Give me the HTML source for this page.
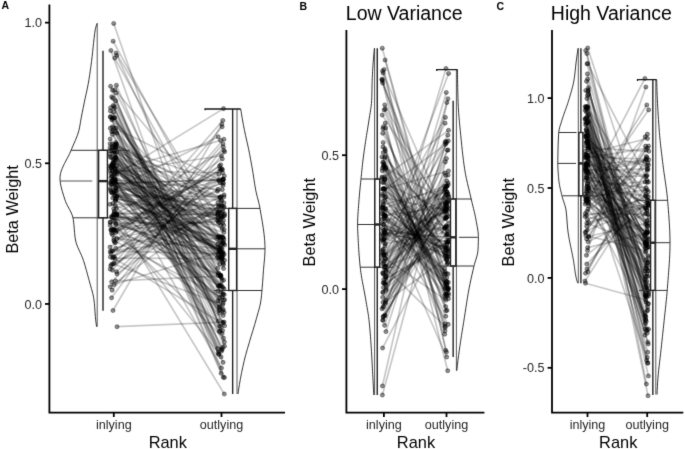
<!DOCTYPE html>
<html><head><meta charset="utf-8"><style>
html,body{margin:0;padding:0;background:#fff;}
svg{display:block;}
</style></head><body>
<svg width="685" height="449" viewBox="0 0 685 449">
<defs><filter id="bl" color-interpolation-filters="sRGB" x="0" y="0" width="685" height="449" filterUnits="userSpaceOnUse"><feConvolveMatrix order="3" kernelMatrix="1 8 1 8 64 8 1 8 1" divisor="100" edgeMode="duplicate"/></filter></defs>
<g filter="url(#bl)">
<rect width="685" height="449" fill="#fff"/>
<g stroke="#000" stroke-opacity="0.22" stroke-width="1.7" fill="none">
<path d="M116.59,214.85L219.91,248.3"/>
<path d="M114.32,230.4L220.75,275.53"/>
<path d="M116.79,196.3L223.79,215.68"/>
<path d="M112.4,126.84L218.9,179.53"/>
<path d="M116.05,53.11L217.65,220.38"/>
<path d="M112.45,270.11L223.03,143.93"/>
<path d="M115.02,195.23L223.93,196.86"/>
<path d="M115.36,205.59L220.17,249.32"/>
<path d="M115.95,128.26L218.8,354.29"/>
<path d="M114.52,159.8L219,259.3"/>
<path d="M113.14,105.46L221.07,326.77"/>
<path d="M110,247.08L224.35,175.95"/>
<path d="M115.2,179.06L223.1,242.09"/>
<path d="M111.32,157.75L223.17,263.52"/>
<path d="M110.8,253.36L220.12,182.64"/>
<path d="M116.65,174.29L223.5,108.6"/>
<path d="M112.75,258.04L222.27,258.59"/>
<path d="M114.73,58.06L224.1,254.33"/>
<path d="M113.25,162.21L222.16,228.71"/>
<path d="M115.74,248.2L224.46,215.67"/>
<path d="M115.23,221.09L220.6,275.42"/>
<path d="M116.37,92.81L219.78,301.22"/>
<path d="M116.36,213.42L217.82,214.96"/>
<path d="M110.01,147.84L219.23,222.43"/>
<path d="M114.41,151.53L222.61,223.27"/>
<path d="M117.07,133.11L222.94,262.2"/>
<path d="M110.16,150.98L219.03,310.58"/>
<path d="M115.47,190.54L219.88,219.54"/>
<path d="M111.99,217.8L218.18,254.55"/>
<path d="M114.03,284.44L220.51,251.64"/>
<path d="M110.58,181.86L220.19,197.39"/>
<path d="M114.68,173.87L224.08,288.91"/>
<path d="M116.14,198.76L223.12,303.17"/>
<path d="M115.38,183.9L223.97,239.64"/>
<path d="M115.11,258.89L218.31,320.97"/>
<path d="M116.4,85.35L219.64,326.04"/>
<path d="M114.08,214.55L223.6,207.74"/>
<path d="M111.58,250.92L219.09,237.91"/>
<path d="M113.8,219.79L219.86,212.24"/>
<path d="M115.9,188.15L218.12,136.78"/>
<path d="M112.24,147.27L217.52,191.2"/>
<path d="M112.98,310.5L221.79,124.3"/>
<path d="M115.88,157.28L220.1,236.93"/>
<path d="M110.41,222.42L219.88,257.18"/>
<path d="M110.38,188.43L220.28,251.74"/>
<path d="M112.48,134.49L223.04,294.73"/>
<path d="M116.11,147.1L218.07,275.49"/>
<path d="M110.83,229.83L217.62,214.42"/>
<path d="M113.95,183.52L217.96,291.11"/>
<path d="M114.85,89.7L217.84,212.36"/>
<path d="M110.37,117.12L222.18,349.53"/>
<path d="M116.08,143.8L221.05,256.97"/>
<path d="M115.66,180.22L218.02,189.33"/>
<path d="M110.19,138.95L219.95,285.59"/>
<path d="M113.36,163.3L217.93,300.73"/>
<path d="M113.01,215.8L221.3,236.45"/>
<path d="M115.36,242.81L222.81,120.5"/>
<path d="M110.19,156.71L218.43,236.85"/>
<path d="M112.48,164.54L223.64,280.15"/>
<path d="M110.36,128.13L223.15,255.6"/>
<path d="M113.69,214.38L224.58,245.07"/>
<path d="M110.51,116.64L221.08,373.28"/>
<path d="M115.78,199.13L221.28,218.61"/>
<path d="M112.34,118.26L217.52,236.93"/>
<path d="M110.02,154.26L223.92,203.03"/>
<path d="M112.14,217.41L223.1,237.41"/>
<path d="M113.85,240.59L221.98,297.4"/>
<path d="M111.49,183.87L222.93,179.53"/>
<path d="M110.99,191.69L218.99,250.8"/>
<path d="M115.57,142.5L223.18,237.7"/>
<path d="M114.09,229.94L222.46,169.51"/>
<path d="M110.23,269.13L218.89,180.7"/>
<path d="M114.97,180.82L222.8,253.03"/>
<path d="M110.59,86.32L221.35,349.4"/>
<path d="M115.71,100.72L222.55,330.6"/>
<path d="M115.95,223.44L218.48,222.45"/>
<path d="M111.99,192.77L223.45,264.77"/>
<path d="M110.06,166.02L220.13,240.58"/>
<path d="M113.88,228.93L223.5,338.08"/>
<path d="M114.03,191.38L224.55,299.66"/>
<path d="M112.33,193.11L217.68,244.32"/>
<path d="M112.82,251.03L222.09,253.97"/>
<path d="M110.19,222.16L217.55,257.57"/>
<path d="M116.83,214.42L219.65,297.42"/>
<path d="M110.69,168.33L224.56,214.02"/>
<path d="M113.25,256.97L222.16,126.79"/>
<path d="M111.81,176.22L222.63,310.69"/>
<path d="M114.43,242L220.75,164.83"/>
<path d="M111.62,233.24L219.93,306.82"/>
<path d="M110.4,256.95L218.29,207.03"/>
<path d="M113.7,23.5L224.39,341.91"/>
<path d="M111.8,119.8L224.44,260.2"/>
<path d="M114.71,117.64L220.84,292.33"/>
<path d="M112.09,144.23L220.82,275.29"/>
<path d="M116.45,190.66L222.86,179.48"/>
<path d="M114.13,177.61L217.95,213.12"/>
<path d="M113.58,166.45L222.06,258.6"/>
<path d="M113.43,159.34L224.04,312.36"/>
<path d="M114.1,151.52L218.34,272.89"/>
<path d="M113.92,106.54L224.48,346.21"/>
<path d="M117,326.7L224.09,322.06"/>
<path d="M111.37,216.52L223.98,150.45"/>
<path d="M115.56,148.36L218.2,218.23"/>
<path d="M112.75,198.05L221.1,216.23"/>
<path d="M111.7,184.82L222.87,211.42"/>
<path d="M114.39,108.21L223.05,362.39"/>
<path d="M114.58,168.6L219.04,251.98"/>
<path d="M112.61,90.3L224.45,377.5"/>
<path d="M115.08,181.31L218.26,286.19"/>
<path d="M111.43,167.42L222.49,237.59"/>
<path d="M110.29,251.49L224.06,194.88"/>
<path d="M111.54,297.84L223.39,147.08"/>
<path d="M115.44,201.12L223.86,232.41"/>
<path d="M110.85,177.68L220.68,251.71"/>
<path d="M114.67,196.49L223.81,243.35"/>
<path d="M114.07,263.36L223.91,139.28"/>
<path d="M114.18,150.3L221.79,200.52"/>
<path d="M112.36,176.4L222.1,333.49"/>
<path d="M112.95,180.69L217.9,246.83"/>
<path d="M115.92,232.5L219.48,166.02"/>
<path d="M112.83,98.16L224.55,325.78"/>
<path d="M110.41,110.97L222.23,286.8"/>
<path d="M113.32,166.23L224.22,294.6"/>
<path d="M110.46,183.71L223.19,315.49"/>
<path d="M111.07,166.77L222.23,253.08"/>
<path d="M111.66,96.87L220.15,331.07"/>
<path d="M113.1,41.2L222.34,241.99"/>
<path d="M113.89,179.96L219.31,331.61"/>
<path d="M112.93,203.52L218.97,306.81"/>
<path d="M110.3,286.75L221.19,204.99"/>
<path d="M110.9,50.5L221.06,356.95"/>
<path d="M114.21,256.92L223.01,185.41"/>
<path d="M110.06,143.76L222.6,347.45"/>
<path d="M115.53,157.64L220.12,236.98"/>
<path d="M114.27,117.9L219.25,274.2"/>
<path d="M113.98,238.5L222.19,217.06"/>
<path d="M116.47,271.68L218.86,174.32"/>
<path d="M110.9,173.75L219.62,264.09"/>
<path d="M114.35,163.19L221.09,284.85"/>
<path d="M112.95,131.11L222.92,293.6"/>
<path d="M115.52,280.87L220.33,276.21"/>
<path d="M114.34,211.29L219.98,246.72"/>
<path d="M114.06,192.54L222.41,206.13"/>
<path d="M112.99,263.68L222.63,304.8"/>
<path d="M116.37,187.74L221.67,211.97"/>
<path d="M114.02,145.78L222.99,322.79"/>
<path d="M111.57,181.1L220.55,276.63"/>
<path d="M110.71,265.87L224.2,207.12"/>
<path d="M116.83,165.91L222.02,256.54"/>
<path d="M116.55,144L219.27,210.19"/>
<path d="M114.79,154.4L219.1,285.82"/>
<path d="M115.63,146.98L222.52,182.81"/>
<path d="M116.93,273.86L217.81,203.12"/>
<path d="M115.28,157.77L221.27,248.79"/>
<path d="M112.28,151.11L221.44,351.26"/>
<path d="M115.38,200.01L220.48,285.77"/>
<path d="M114.43,183.17L223.23,179.64"/>
<path d="M111.48,230.66L223.47,220.39"/>
<path d="M114.06,127.94L221.41,257.36"/>
<path d="M116.9,196.19L220.95,200.21"/>
<path d="M116.88,238.54L222.12,248.82"/>
<path d="M112.61,170.83L222.61,172.76"/>
<path d="M115.01,187.63L223.54,268.51"/>
<path d="M111.68,149.19L219.73,313.02"/>
<path d="M112.49,234.73L219.98,169.23"/>
<path d="M111.43,229.3L221.45,169.8"/>
<path d="M112.47,163.32L222.73,322.4"/>
<path d="M116.8,55.49L221.96,280.68"/>
<path d="M114.13,212.78L224.3,394"/>
<path d="M111.48,264.44L221.15,206.39"/>
<path d="M112.29,171.51L220.52,140.42"/>
<path d="M116.18,230.8L222.3,158.86"/>
<path d="M112.11,290.17L224.56,151.82"/>
<path d="M112.66,229.9L222.29,189.61"/>
<path d="M113.45,217.71L221.51,278.08"/>
<path d="M115.87,159.84L221.61,244.61"/>
<path d="M112.57,117.98L217.66,268.29"/>
<path d="M115.2,132.03L217.67,348.46"/>
<path d="M115.83,144.6L221.42,259.92"/>
<path d="M110.09,204.35L219.08,205.2"/>
<path d="M116.3,172.22L222.87,244.17"/>
<path d="M112.19,181.15L221.5,215.92"/>
<path d="M113.67,112.18L223.2,309.38"/>
<path d="M110.13,225.31L222.79,287.68"/>
<path d="M116.59,215.9L220.82,225.27"/>
<path d="M110.6,107.79L223.31,377.36"/>
<path d="M116.76,151.87L219.85,309.32"/>
<path d="M113.67,208.69L223.4,179.33"/>
<path d="M115.14,172.02L221.46,155.74"/>
<path d="M114.81,173.39L223.99,229.62"/>
<path d="M110.19,170.81L221.5,368.02"/>
<path d="M114.89,145.03L219.78,197.47"/>
<path d="M111.57,165.23L223.7,225.28"/>
<path d="M110.62,190L222.98,252.19"/>
<path d="M116.59,214.83L223.4,183.22"/>
<path d="M111.68,281.85L221.5,168.7"/>
<path d="M116.24,208.54L223.62,300.26"/>
<path d="M111.64,131.7L218.73,354.23"/>
<path d="M115.23,168.51L220.94,196.56"/>
<path d="M115.69,224.6L218.23,352.57"/>
</g>
<g fill="#000" fill-opacity="0.42" stroke="#000" stroke-opacity="0.55" stroke-width="0.7">
<circle cx="116.59" cy="214.85" r="2.05"/>
<circle cx="219.91" cy="248.3" r="2.05"/>
<circle cx="114.32" cy="230.4" r="2.05"/>
<circle cx="220.75" cy="275.53" r="2.05"/>
<circle cx="116.79" cy="196.3" r="2.05"/>
<circle cx="223.79" cy="215.68" r="2.05"/>
<circle cx="112.4" cy="126.84" r="2.05"/>
<circle cx="218.9" cy="179.53" r="2.05"/>
<circle cx="116.05" cy="53.11" r="2.05"/>
<circle cx="217.65" cy="220.38" r="2.05"/>
<circle cx="112.45" cy="270.11" r="2.05"/>
<circle cx="223.03" cy="143.93" r="2.05"/>
<circle cx="115.02" cy="195.23" r="2.05"/>
<circle cx="223.93" cy="196.86" r="2.05"/>
<circle cx="115.36" cy="205.59" r="2.05"/>
<circle cx="220.17" cy="249.32" r="2.05"/>
<circle cx="115.95" cy="128.26" r="2.05"/>
<circle cx="218.8" cy="354.29" r="2.05"/>
<circle cx="114.52" cy="159.8" r="2.05"/>
<circle cx="219" cy="259.3" r="2.05"/>
<circle cx="113.14" cy="105.46" r="2.05"/>
<circle cx="221.07" cy="326.77" r="2.05"/>
<circle cx="110" cy="247.08" r="2.05"/>
<circle cx="224.35" cy="175.95" r="2.05"/>
<circle cx="115.2" cy="179.06" r="2.05"/>
<circle cx="223.1" cy="242.09" r="2.05"/>
<circle cx="111.32" cy="157.75" r="2.05"/>
<circle cx="223.17" cy="263.52" r="2.05"/>
<circle cx="110.8" cy="253.36" r="2.05"/>
<circle cx="220.12" cy="182.64" r="2.05"/>
<circle cx="116.65" cy="174.29" r="2.05"/>
<circle cx="223.5" cy="108.6" r="2.05"/>
<circle cx="112.75" cy="258.04" r="2.05"/>
<circle cx="222.27" cy="258.59" r="2.05"/>
<circle cx="114.73" cy="58.06" r="2.05"/>
<circle cx="224.1" cy="254.33" r="2.05"/>
<circle cx="113.25" cy="162.21" r="2.05"/>
<circle cx="222.16" cy="228.71" r="2.05"/>
<circle cx="115.74" cy="248.2" r="2.05"/>
<circle cx="224.46" cy="215.67" r="2.05"/>
<circle cx="115.23" cy="221.09" r="2.05"/>
<circle cx="220.6" cy="275.42" r="2.05"/>
<circle cx="116.37" cy="92.81" r="2.05"/>
<circle cx="219.78" cy="301.22" r="2.05"/>
<circle cx="116.36" cy="213.42" r="2.05"/>
<circle cx="217.82" cy="214.96" r="2.05"/>
<circle cx="110.01" cy="147.84" r="2.05"/>
<circle cx="219.23" cy="222.43" r="2.05"/>
<circle cx="114.41" cy="151.53" r="2.05"/>
<circle cx="222.61" cy="223.27" r="2.05"/>
<circle cx="117.07" cy="133.11" r="2.05"/>
<circle cx="222.94" cy="262.2" r="2.05"/>
<circle cx="110.16" cy="150.98" r="2.05"/>
<circle cx="219.03" cy="310.58" r="2.05"/>
<circle cx="115.47" cy="190.54" r="2.05"/>
<circle cx="219.88" cy="219.54" r="2.05"/>
<circle cx="111.99" cy="217.8" r="2.05"/>
<circle cx="218.18" cy="254.55" r="2.05"/>
<circle cx="114.03" cy="284.44" r="2.05"/>
<circle cx="220.51" cy="251.64" r="2.05"/>
<circle cx="110.58" cy="181.86" r="2.05"/>
<circle cx="220.19" cy="197.39" r="2.05"/>
<circle cx="114.68" cy="173.87" r="2.05"/>
<circle cx="224.08" cy="288.91" r="2.05"/>
<circle cx="116.14" cy="198.76" r="2.05"/>
<circle cx="223.12" cy="303.17" r="2.05"/>
<circle cx="115.38" cy="183.9" r="2.05"/>
<circle cx="223.97" cy="239.64" r="2.05"/>
<circle cx="115.11" cy="258.89" r="2.05"/>
<circle cx="218.31" cy="320.97" r="2.05"/>
<circle cx="116.4" cy="85.35" r="2.05"/>
<circle cx="219.64" cy="326.04" r="2.05"/>
<circle cx="114.08" cy="214.55" r="2.05"/>
<circle cx="223.6" cy="207.74" r="2.05"/>
<circle cx="111.58" cy="250.92" r="2.05"/>
<circle cx="219.09" cy="237.91" r="2.05"/>
<circle cx="113.8" cy="219.79" r="2.05"/>
<circle cx="219.86" cy="212.24" r="2.05"/>
<circle cx="115.9" cy="188.15" r="2.05"/>
<circle cx="218.12" cy="136.78" r="2.05"/>
<circle cx="112.24" cy="147.27" r="2.05"/>
<circle cx="217.52" cy="191.2" r="2.05"/>
<circle cx="112.98" cy="310.5" r="2.05"/>
<circle cx="221.79" cy="124.3" r="2.05"/>
<circle cx="115.88" cy="157.28" r="2.05"/>
<circle cx="220.1" cy="236.93" r="2.05"/>
<circle cx="110.41" cy="222.42" r="2.05"/>
<circle cx="219.88" cy="257.18" r="2.05"/>
<circle cx="110.38" cy="188.43" r="2.05"/>
<circle cx="220.28" cy="251.74" r="2.05"/>
<circle cx="112.48" cy="134.49" r="2.05"/>
<circle cx="223.04" cy="294.73" r="2.05"/>
<circle cx="116.11" cy="147.1" r="2.05"/>
<circle cx="218.07" cy="275.49" r="2.05"/>
<circle cx="110.83" cy="229.83" r="2.05"/>
<circle cx="217.62" cy="214.42" r="2.05"/>
<circle cx="113.95" cy="183.52" r="2.05"/>
<circle cx="217.96" cy="291.11" r="2.05"/>
<circle cx="114.85" cy="89.7" r="2.05"/>
<circle cx="217.84" cy="212.36" r="2.05"/>
<circle cx="110.37" cy="117.12" r="2.05"/>
<circle cx="222.18" cy="349.53" r="2.05"/>
<circle cx="116.08" cy="143.8" r="2.05"/>
<circle cx="221.05" cy="256.97" r="2.05"/>
<circle cx="115.66" cy="180.22" r="2.05"/>
<circle cx="218.02" cy="189.33" r="2.05"/>
<circle cx="110.19" cy="138.95" r="2.05"/>
<circle cx="219.95" cy="285.59" r="2.05"/>
<circle cx="113.36" cy="163.3" r="2.05"/>
<circle cx="217.93" cy="300.73" r="2.05"/>
<circle cx="113.01" cy="215.8" r="2.05"/>
<circle cx="221.3" cy="236.45" r="2.05"/>
<circle cx="115.36" cy="242.81" r="2.05"/>
<circle cx="222.81" cy="120.5" r="2.05"/>
<circle cx="110.19" cy="156.71" r="2.05"/>
<circle cx="218.43" cy="236.85" r="2.05"/>
<circle cx="112.48" cy="164.54" r="2.05"/>
<circle cx="223.64" cy="280.15" r="2.05"/>
<circle cx="110.36" cy="128.13" r="2.05"/>
<circle cx="223.15" cy="255.6" r="2.05"/>
<circle cx="113.69" cy="214.38" r="2.05"/>
<circle cx="224.58" cy="245.07" r="2.05"/>
<circle cx="110.51" cy="116.64" r="2.05"/>
<circle cx="221.08" cy="373.28" r="2.05"/>
<circle cx="115.78" cy="199.13" r="2.05"/>
<circle cx="221.28" cy="218.61" r="2.05"/>
<circle cx="112.34" cy="118.26" r="2.05"/>
<circle cx="217.52" cy="236.93" r="2.05"/>
<circle cx="110.02" cy="154.26" r="2.05"/>
<circle cx="223.92" cy="203.03" r="2.05"/>
<circle cx="112.14" cy="217.41" r="2.05"/>
<circle cx="223.1" cy="237.41" r="2.05"/>
<circle cx="113.85" cy="240.59" r="2.05"/>
<circle cx="221.98" cy="297.4" r="2.05"/>
<circle cx="111.49" cy="183.87" r="2.05"/>
<circle cx="222.93" cy="179.53" r="2.05"/>
<circle cx="110.99" cy="191.69" r="2.05"/>
<circle cx="218.99" cy="250.8" r="2.05"/>
<circle cx="115.57" cy="142.5" r="2.05"/>
<circle cx="223.18" cy="237.7" r="2.05"/>
<circle cx="114.09" cy="229.94" r="2.05"/>
<circle cx="222.46" cy="169.51" r="2.05"/>
<circle cx="110.23" cy="269.13" r="2.05"/>
<circle cx="218.89" cy="180.7" r="2.05"/>
<circle cx="114.97" cy="180.82" r="2.05"/>
<circle cx="222.8" cy="253.03" r="2.05"/>
<circle cx="110.59" cy="86.32" r="2.05"/>
<circle cx="221.35" cy="349.4" r="2.05"/>
<circle cx="115.71" cy="100.72" r="2.05"/>
<circle cx="222.55" cy="330.6" r="2.05"/>
<circle cx="115.95" cy="223.44" r="2.05"/>
<circle cx="218.48" cy="222.45" r="2.05"/>
<circle cx="111.99" cy="192.77" r="2.05"/>
<circle cx="223.45" cy="264.77" r="2.05"/>
<circle cx="110.06" cy="166.02" r="2.05"/>
<circle cx="220.13" cy="240.58" r="2.05"/>
<circle cx="113.88" cy="228.93" r="2.05"/>
<circle cx="223.5" cy="338.08" r="2.05"/>
<circle cx="114.03" cy="191.38" r="2.05"/>
<circle cx="224.55" cy="299.66" r="2.05"/>
<circle cx="112.33" cy="193.11" r="2.05"/>
<circle cx="217.68" cy="244.32" r="2.05"/>
<circle cx="112.82" cy="251.03" r="2.05"/>
<circle cx="222.09" cy="253.97" r="2.05"/>
<circle cx="110.19" cy="222.16" r="2.05"/>
<circle cx="217.55" cy="257.57" r="2.05"/>
<circle cx="116.83" cy="214.42" r="2.05"/>
<circle cx="219.65" cy="297.42" r="2.05"/>
<circle cx="110.69" cy="168.33" r="2.05"/>
<circle cx="224.56" cy="214.02" r="2.05"/>
<circle cx="113.25" cy="256.97" r="2.05"/>
<circle cx="222.16" cy="126.79" r="2.05"/>
<circle cx="111.81" cy="176.22" r="2.05"/>
<circle cx="222.63" cy="310.69" r="2.05"/>
<circle cx="114.43" cy="242" r="2.05"/>
<circle cx="220.75" cy="164.83" r="2.05"/>
<circle cx="111.62" cy="233.24" r="2.05"/>
<circle cx="219.93" cy="306.82" r="2.05"/>
<circle cx="110.4" cy="256.95" r="2.05"/>
<circle cx="218.29" cy="207.03" r="2.05"/>
<circle cx="113.7" cy="23.5" r="2.05"/>
<circle cx="224.39" cy="341.91" r="2.05"/>
<circle cx="111.8" cy="119.8" r="2.05"/>
<circle cx="224.44" cy="260.2" r="2.05"/>
<circle cx="114.71" cy="117.64" r="2.05"/>
<circle cx="220.84" cy="292.33" r="2.05"/>
<circle cx="112.09" cy="144.23" r="2.05"/>
<circle cx="220.82" cy="275.29" r="2.05"/>
<circle cx="116.45" cy="190.66" r="2.05"/>
<circle cx="222.86" cy="179.48" r="2.05"/>
<circle cx="114.13" cy="177.61" r="2.05"/>
<circle cx="217.95" cy="213.12" r="2.05"/>
<circle cx="113.58" cy="166.45" r="2.05"/>
<circle cx="222.06" cy="258.6" r="2.05"/>
<circle cx="113.43" cy="159.34" r="2.05"/>
<circle cx="224.04" cy="312.36" r="2.05"/>
<circle cx="114.1" cy="151.52" r="2.05"/>
<circle cx="218.34" cy="272.89" r="2.05"/>
<circle cx="113.92" cy="106.54" r="2.05"/>
<circle cx="224.48" cy="346.21" r="2.05"/>
<circle cx="117" cy="326.7" r="2.05"/>
<circle cx="224.09" cy="322.06" r="2.05"/>
<circle cx="111.37" cy="216.52" r="2.05"/>
<circle cx="223.98" cy="150.45" r="2.05"/>
<circle cx="115.56" cy="148.36" r="2.05"/>
<circle cx="218.2" cy="218.23" r="2.05"/>
<circle cx="112.75" cy="198.05" r="2.05"/>
<circle cx="221.1" cy="216.23" r="2.05"/>
<circle cx="111.7" cy="184.82" r="2.05"/>
<circle cx="222.87" cy="211.42" r="2.05"/>
<circle cx="114.39" cy="108.21" r="2.05"/>
<circle cx="223.05" cy="362.39" r="2.05"/>
<circle cx="114.58" cy="168.6" r="2.05"/>
<circle cx="219.04" cy="251.98" r="2.05"/>
<circle cx="112.61" cy="90.3" r="2.05"/>
<circle cx="224.45" cy="377.5" r="2.05"/>
<circle cx="115.08" cy="181.31" r="2.05"/>
<circle cx="218.26" cy="286.19" r="2.05"/>
<circle cx="111.43" cy="167.42" r="2.05"/>
<circle cx="222.49" cy="237.59" r="2.05"/>
<circle cx="110.29" cy="251.49" r="2.05"/>
<circle cx="224.06" cy="194.88" r="2.05"/>
<circle cx="111.54" cy="297.84" r="2.05"/>
<circle cx="223.39" cy="147.08" r="2.05"/>
<circle cx="115.44" cy="201.12" r="2.05"/>
<circle cx="223.86" cy="232.41" r="2.05"/>
<circle cx="110.85" cy="177.68" r="2.05"/>
<circle cx="220.68" cy="251.71" r="2.05"/>
<circle cx="114.67" cy="196.49" r="2.05"/>
<circle cx="223.81" cy="243.35" r="2.05"/>
<circle cx="114.07" cy="263.36" r="2.05"/>
<circle cx="223.91" cy="139.28" r="2.05"/>
<circle cx="114.18" cy="150.3" r="2.05"/>
<circle cx="221.79" cy="200.52" r="2.05"/>
<circle cx="112.36" cy="176.4" r="2.05"/>
<circle cx="222.1" cy="333.49" r="2.05"/>
<circle cx="112.95" cy="180.69" r="2.05"/>
<circle cx="217.9" cy="246.83" r="2.05"/>
<circle cx="115.92" cy="232.5" r="2.05"/>
<circle cx="219.48" cy="166.02" r="2.05"/>
<circle cx="112.83" cy="98.16" r="2.05"/>
<circle cx="224.55" cy="325.78" r="2.05"/>
<circle cx="110.41" cy="110.97" r="2.05"/>
<circle cx="222.23" cy="286.8" r="2.05"/>
<circle cx="113.32" cy="166.23" r="2.05"/>
<circle cx="224.22" cy="294.6" r="2.05"/>
<circle cx="110.46" cy="183.71" r="2.05"/>
<circle cx="223.19" cy="315.49" r="2.05"/>
<circle cx="111.07" cy="166.77" r="2.05"/>
<circle cx="222.23" cy="253.08" r="2.05"/>
<circle cx="111.66" cy="96.87" r="2.05"/>
<circle cx="220.15" cy="331.07" r="2.05"/>
<circle cx="113.1" cy="41.2" r="2.05"/>
<circle cx="222.34" cy="241.99" r="2.05"/>
<circle cx="113.89" cy="179.96" r="2.05"/>
<circle cx="219.31" cy="331.61" r="2.05"/>
<circle cx="112.93" cy="203.52" r="2.05"/>
<circle cx="218.97" cy="306.81" r="2.05"/>
<circle cx="110.3" cy="286.75" r="2.05"/>
<circle cx="221.19" cy="204.99" r="2.05"/>
<circle cx="110.9" cy="50.5" r="2.05"/>
<circle cx="221.06" cy="356.95" r="2.05"/>
<circle cx="114.21" cy="256.92" r="2.05"/>
<circle cx="223.01" cy="185.41" r="2.05"/>
<circle cx="110.06" cy="143.76" r="2.05"/>
<circle cx="222.6" cy="347.45" r="2.05"/>
<circle cx="115.53" cy="157.64" r="2.05"/>
<circle cx="220.12" cy="236.98" r="2.05"/>
<circle cx="114.27" cy="117.9" r="2.05"/>
<circle cx="219.25" cy="274.2" r="2.05"/>
<circle cx="113.98" cy="238.5" r="2.05"/>
<circle cx="222.19" cy="217.06" r="2.05"/>
<circle cx="116.47" cy="271.68" r="2.05"/>
<circle cx="218.86" cy="174.32" r="2.05"/>
<circle cx="110.9" cy="173.75" r="2.05"/>
<circle cx="219.62" cy="264.09" r="2.05"/>
<circle cx="114.35" cy="163.19" r="2.05"/>
<circle cx="221.09" cy="284.85" r="2.05"/>
<circle cx="112.95" cy="131.11" r="2.05"/>
<circle cx="222.92" cy="293.6" r="2.05"/>
<circle cx="115.52" cy="280.87" r="2.05"/>
<circle cx="220.33" cy="276.21" r="2.05"/>
<circle cx="114.34" cy="211.29" r="2.05"/>
<circle cx="219.98" cy="246.72" r="2.05"/>
<circle cx="114.06" cy="192.54" r="2.05"/>
<circle cx="222.41" cy="206.13" r="2.05"/>
<circle cx="112.99" cy="263.68" r="2.05"/>
<circle cx="222.63" cy="304.8" r="2.05"/>
<circle cx="116.37" cy="187.74" r="2.05"/>
<circle cx="221.67" cy="211.97" r="2.05"/>
<circle cx="114.02" cy="145.78" r="2.05"/>
<circle cx="222.99" cy="322.79" r="2.05"/>
<circle cx="111.57" cy="181.1" r="2.05"/>
<circle cx="220.55" cy="276.63" r="2.05"/>
<circle cx="110.71" cy="265.87" r="2.05"/>
<circle cx="224.2" cy="207.12" r="2.05"/>
<circle cx="116.83" cy="165.91" r="2.05"/>
<circle cx="222.02" cy="256.54" r="2.05"/>
<circle cx="116.55" cy="144" r="2.05"/>
<circle cx="219.27" cy="210.19" r="2.05"/>
<circle cx="114.79" cy="154.4" r="2.05"/>
<circle cx="219.1" cy="285.82" r="2.05"/>
<circle cx="115.63" cy="146.98" r="2.05"/>
<circle cx="222.52" cy="182.81" r="2.05"/>
<circle cx="116.93" cy="273.86" r="2.05"/>
<circle cx="217.81" cy="203.12" r="2.05"/>
<circle cx="115.28" cy="157.77" r="2.05"/>
<circle cx="221.27" cy="248.79" r="2.05"/>
<circle cx="112.28" cy="151.11" r="2.05"/>
<circle cx="221.44" cy="351.26" r="2.05"/>
<circle cx="115.38" cy="200.01" r="2.05"/>
<circle cx="220.48" cy="285.77" r="2.05"/>
<circle cx="114.43" cy="183.17" r="2.05"/>
<circle cx="223.23" cy="179.64" r="2.05"/>
<circle cx="111.48" cy="230.66" r="2.05"/>
<circle cx="223.47" cy="220.39" r="2.05"/>
<circle cx="114.06" cy="127.94" r="2.05"/>
<circle cx="221.41" cy="257.36" r="2.05"/>
<circle cx="116.9" cy="196.19" r="2.05"/>
<circle cx="220.95" cy="200.21" r="2.05"/>
<circle cx="116.88" cy="238.54" r="2.05"/>
<circle cx="222.12" cy="248.82" r="2.05"/>
<circle cx="112.61" cy="170.83" r="2.05"/>
<circle cx="222.61" cy="172.76" r="2.05"/>
<circle cx="115.01" cy="187.63" r="2.05"/>
<circle cx="223.54" cy="268.51" r="2.05"/>
<circle cx="111.68" cy="149.19" r="2.05"/>
<circle cx="219.73" cy="313.02" r="2.05"/>
<circle cx="112.49" cy="234.73" r="2.05"/>
<circle cx="219.98" cy="169.23" r="2.05"/>
<circle cx="111.43" cy="229.3" r="2.05"/>
<circle cx="221.45" cy="169.8" r="2.05"/>
<circle cx="112.47" cy="163.32" r="2.05"/>
<circle cx="222.73" cy="322.4" r="2.05"/>
<circle cx="116.8" cy="55.49" r="2.05"/>
<circle cx="221.96" cy="280.68" r="2.05"/>
<circle cx="114.13" cy="212.78" r="2.05"/>
<circle cx="224.3" cy="394" r="2.05"/>
<circle cx="111.48" cy="264.44" r="2.05"/>
<circle cx="221.15" cy="206.39" r="2.05"/>
<circle cx="112.29" cy="171.51" r="2.05"/>
<circle cx="220.52" cy="140.42" r="2.05"/>
<circle cx="116.18" cy="230.8" r="2.05"/>
<circle cx="222.3" cy="158.86" r="2.05"/>
<circle cx="112.11" cy="290.17" r="2.05"/>
<circle cx="224.56" cy="151.82" r="2.05"/>
<circle cx="112.66" cy="229.9" r="2.05"/>
<circle cx="222.29" cy="189.61" r="2.05"/>
<circle cx="113.45" cy="217.71" r="2.05"/>
<circle cx="221.51" cy="278.08" r="2.05"/>
<circle cx="115.87" cy="159.84" r="2.05"/>
<circle cx="221.61" cy="244.61" r="2.05"/>
<circle cx="112.57" cy="117.98" r="2.05"/>
<circle cx="217.66" cy="268.29" r="2.05"/>
<circle cx="115.2" cy="132.03" r="2.05"/>
<circle cx="217.67" cy="348.46" r="2.05"/>
<circle cx="115.83" cy="144.6" r="2.05"/>
<circle cx="221.42" cy="259.92" r="2.05"/>
<circle cx="110.09" cy="204.35" r="2.05"/>
<circle cx="219.08" cy="205.2" r="2.05"/>
<circle cx="116.3" cy="172.22" r="2.05"/>
<circle cx="222.87" cy="244.17" r="2.05"/>
<circle cx="112.19" cy="181.15" r="2.05"/>
<circle cx="221.5" cy="215.92" r="2.05"/>
<circle cx="113.67" cy="112.18" r="2.05"/>
<circle cx="223.2" cy="309.38" r="2.05"/>
<circle cx="110.13" cy="225.31" r="2.05"/>
<circle cx="222.79" cy="287.68" r="2.05"/>
<circle cx="116.59" cy="215.9" r="2.05"/>
<circle cx="220.82" cy="225.27" r="2.05"/>
<circle cx="110.6" cy="107.79" r="2.05"/>
<circle cx="223.31" cy="377.36" r="2.05"/>
<circle cx="116.76" cy="151.87" r="2.05"/>
<circle cx="219.85" cy="309.32" r="2.05"/>
<circle cx="113.67" cy="208.69" r="2.05"/>
<circle cx="223.4" cy="179.33" r="2.05"/>
<circle cx="115.14" cy="172.02" r="2.05"/>
<circle cx="221.46" cy="155.74" r="2.05"/>
<circle cx="114.81" cy="173.39" r="2.05"/>
<circle cx="223.99" cy="229.62" r="2.05"/>
<circle cx="110.19" cy="170.81" r="2.05"/>
<circle cx="221.5" cy="368.02" r="2.05"/>
<circle cx="114.89" cy="145.03" r="2.05"/>
<circle cx="219.78" cy="197.47" r="2.05"/>
<circle cx="111.57" cy="165.23" r="2.05"/>
<circle cx="223.7" cy="225.28" r="2.05"/>
<circle cx="110.62" cy="190" r="2.05"/>
<circle cx="222.98" cy="252.19" r="2.05"/>
<circle cx="116.59" cy="214.83" r="2.05"/>
<circle cx="223.4" cy="183.22" r="2.05"/>
<circle cx="111.68" cy="281.85" r="2.05"/>
<circle cx="221.5" cy="168.7" r="2.05"/>
<circle cx="116.24" cy="208.54" r="2.05"/>
<circle cx="223.62" cy="300.26" r="2.05"/>
<circle cx="111.64" cy="131.7" r="2.05"/>
<circle cx="218.73" cy="354.23" r="2.05"/>
<circle cx="115.23" cy="168.51" r="2.05"/>
<circle cx="220.94" cy="196.56" r="2.05"/>
<circle cx="115.69" cy="224.6" r="2.05"/>
<circle cx="218.23" cy="352.57" r="2.05"/>
</g>
<path d="M97.2,23.3 L96.22,25.85 L95.52,28.4 L95.05,30.95 L94.68,33.5 L94.36,36.05 L94.07,38.6 L93.76,41.15 L93.48,43.7 L93.21,46.25 L92.96,48.8 L92.7,51.35 L92.43,53.89 L92.13,56.44 L91.83,58.99 L91.52,61.54 L91.2,64.09 L90.86,66.64 L90.51,69.19 L90.15,71.74 L89.77,74.29 L89.38,76.84 L88.97,79.39 L88.54,81.94 L88.09,84.49 L87.61,87.04 L87.08,89.59 L86.52,92.14 L85.96,94.69 L85.39,97.24 L84.84,99.79 L84.32,102.34 L83.8,104.89 L83.28,107.44 L82.77,109.99 L82.26,112.54 L81.76,115.08 L81.27,117.63 L80.81,120.18 L80.39,122.73 L79.96,125.28 L79.48,127.83 L78.91,130.38 L78.18,132.93 L77.3,135.48 L76.32,138.03 L75.25,140.58 L74.14,143.13 L73.02,145.68 L71.93,148.23 L70.89,150.78 L69.78,153.33 L68.53,155.88 L67.2,158.43 L65.84,160.98 L64.51,163.53 L63.25,166.08 L62.13,168.63 L61.19,171.18 L60.49,173.73 L60.08,176.27 L60.01,178.82 L60.18,181.37 L60.54,183.92 L61.04,186.47 L61.67,189.02 L62.39,191.57 L63.16,194.12 L63.96,196.67 L64.76,199.22 L65.63,201.77 L66.77,204.32 L68.11,206.87 L69.5,209.42 L70.82,211.97 L71.96,214.52 L72.8,217.07 L73.28,219.62 L73.63,222.17 L73.9,224.72 L74.13,227.27 L74.33,229.82 L74.55,232.37 L74.79,234.92 L75.1,237.46 L75.5,240.01 L76.1,242.56 L76.95,245.11 L77.98,247.66 L79.12,250.21 L80.3,252.76 L81.46,255.31 L82.53,257.86 L83.43,260.41 L84.25,262.96 L85.02,265.51 L85.76,268.06 L86.48,270.61 L87.17,273.16 L87.86,275.71 L88.54,278.26 L89.22,280.81 L89.94,283.36 L90.68,285.91 L91.41,288.46 L92.12,291.01 L92.78,293.56 L93.35,296.11 L93.81,298.65 L94.15,301.2 L94.41,303.75 L94.63,306.3 L94.82,308.85 L94.99,311.4 L95.17,313.95 L95.37,316.5 L95.6,319.05 L95.89,321.6 L96.23,324.15 L96.6,326.7" fill="none" stroke="#1a1a1a" stroke-width="0.9"/>
<line x1="97.2" y1="23.3" x2="97.2" y2="326.7" stroke="#2a2a2a" stroke-width="0.8"/>
<line x1="71" y1="150.3" x2="130" y2="150.3" stroke="#333" stroke-width="1"/>
<line x1="60" y1="181" x2="92.3" y2="181" stroke="#555" stroke-width="1"/>
<line x1="73" y1="217.8" x2="129.5" y2="217.8" stroke="#333" stroke-width="1"/>
<path d="M240.7,109 L241.08,111.39 L241.46,113.79 L241.86,116.18 L242.28,118.58 L242.7,120.97 L243.14,123.37 L243.59,125.76 L244.04,128.16 L244.51,130.55 L245,132.95 L245.53,135.34 L246.07,137.74 L246.62,140.13 L247.17,142.53 L247.71,144.92 L248.24,147.32 L248.74,149.71 L249.22,152.11 L249.69,154.5 L250.14,156.9 L250.59,159.29 L251.03,161.69 L251.46,164.08 L251.89,166.48 L252.31,168.87 L252.71,171.27 L253.1,173.66 L253.46,176.06 L253.82,178.45 L254.18,180.85 L254.55,183.24 L254.93,185.64 L255.34,188.03 L255.78,190.43 L256.3,192.82 L256.87,195.22 L257.49,197.61 L258.11,200.01 L258.71,202.4 L259.27,204.8 L259.76,207.19 L260.17,209.59 L260.58,211.98 L261,214.38 L261.42,216.77 L261.83,219.17 L262.23,221.56 L262.62,223.96 L263,226.35 L263.35,228.75 L263.68,231.14 L263.98,233.54 L264.26,235.93 L264.49,238.33 L264.69,240.72 L264.84,243.12 L264.94,245.51 L264.99,247.91 L264.99,250.3 L264.92,252.7 L264.79,255.09 L264.61,257.49 L264.41,259.88 L264.19,262.28 L263.96,264.67 L263.74,267.07 L263.54,269.46 L263.37,271.86 L263.19,274.25 L263.02,276.65 L262.85,279.04 L262.68,281.44 L262.5,283.83 L262.31,286.23 L262.12,288.62 L261.91,291.02 L261.71,293.41 L261.48,295.81 L261.23,298.2 L260.92,300.6 L260.51,302.99 L260,305.39 L259.43,307.78 L258.79,310.18 L258.12,312.57 L257.43,314.97 L256.74,317.36 L256.07,319.76 L255.4,322.15 L254.7,324.55 L253.98,326.94 L253.25,329.34 L252.51,331.73 L251.77,334.13 L251.03,336.52 L250.32,338.92 L249.62,341.31 L248.92,343.71 L248.21,346.1 L247.51,348.5 L246.82,350.89 L246.15,353.29 L245.5,355.68 L244.87,358.08 L244.29,360.47 L243.72,362.87 L243.18,365.26 L242.65,367.66 L242.14,370.05 L241.64,372.45 L241.16,374.84 L240.71,377.24 L240.27,379.63 L239.85,382.03 L239.44,384.42 L239.05,386.82 L238.68,389.21 L238.33,391.61 L238,394" fill="none" stroke="#1a1a1a" stroke-width="0.9"/>
<line x1="237" y1="109" x2="237" y2="394" stroke="#2a2a2a" stroke-width="0.8"/>
<line x1="214" y1="208.4" x2="260" y2="208.4" stroke="#333" stroke-width="1"/>
<line x1="236.6" y1="248.8" x2="265" y2="248.8" stroke="#333" stroke-width="1"/>
<line x1="214" y1="290.5" x2="262" y2="290.5" stroke="#333" stroke-width="1"/>
<g stroke="#222" fill="none">
<line x1="103" y1="50.7" x2="103" y2="150.3" stroke-width="1.4"/>
<line x1="103" y1="217.8" x2="103" y2="310.7" stroke-width="1.4"/>
<rect x="98.6" y="150.3" width="8.8" height="67.5" stroke-width="1.4" fill="none"/>
<line x1="98.6" y1="181.1" x2="107.4" y2="181.1" stroke-width="2.4"/>
</g>
<g stroke="#222" fill="none">
<line x1="232.65" y1="109" x2="232.65" y2="208.4" stroke-width="1.4"/>
<line x1="232.65" y1="290.5" x2="232.65" y2="394" stroke-width="1.4"/>
<rect x="228.7" y="208.4" width="7.9" height="82.1" stroke-width="1.4" fill="none"/>
<line x1="228.7" y1="248.8" x2="236.6" y2="248.8" stroke-width="2.4"/>
</g>
<path d="M205,110.3 V109 H240.7" stroke="#1a1a1a" stroke-width="1.3" fill="none"/>
<g stroke="#000" stroke-width="1.8" fill="none">
<path d="M49.4,4.4 V412.6 H285"/>
<line x1="45" y1="22.65" x2="49.4" y2="22.65"/>
<line x1="45" y1="163.3" x2="49.4" y2="163.3"/>
<line x1="45" y1="303.95" x2="49.4" y2="303.95"/>
<line x1="113.8" y1="412.6" x2="113.8" y2="417"/>
<line x1="221.5" y1="412.6" x2="221.5" y2="417"/>
</g>
<g font-family='"Liberation Sans", sans-serif' font-size="12.6" fill="#262626" text-anchor="end">
<text x="42" y="27.25">1.0</text>
<text x="42" y="167.9">0.5</text>
<text x="42" y="308.55">0.0</text>
</g>
<g font-family='"Liberation Sans", sans-serif' font-size="12.6" fill="#262626" text-anchor="middle">
<text x="113.8" y="429.2">inlying</text>
<text x="221.5" y="429.2">outlying</text>
</g>
<text x="167.8" y="447.6" font-family='"Liberation Sans", sans-serif' font-size="16.4" text-anchor="middle">Rank</text>
<text transform="translate(18.2,209.4) rotate(-90)" font-family='"Liberation Sans", sans-serif' font-size="16.3" text-anchor="middle">Beta Weight</text>
<text x="1.6" y="8.9" font-family='"Liberation Sans", sans-serif' font-size="10.5" font-weight="bold">A</text>
<g stroke="#000" stroke-opacity="0.22" stroke-width="1.7" fill="none">
<path d="M381.99,79.2L446.85,264.33"/>
<path d="M385.46,234.99L448.36,241.68"/>
<path d="M385.35,303.46L446.42,208.79"/>
<path d="M383.2,273.09L445.77,209.31"/>
<path d="M382.88,146.99L448.55,287.76"/>
<path d="M382.2,259.33L448.25,140.87"/>
<path d="M384.83,189.22L445.43,144.37"/>
<path d="M383.44,316.48L446.91,102.53"/>
<path d="M382.82,201.39L447.48,234.97"/>
<path d="M384.87,179.01L448.4,289.35"/>
<path d="M382.52,194.24L446.85,282.76"/>
<path d="M384.89,179L446.47,250.01"/>
<path d="M382.79,292.3L448.1,183.01"/>
<path d="M383.03,320L444.51,197.02"/>
<path d="M383.05,307.44L445.69,175.26"/>
<path d="M385.71,167.59L448.68,222.98"/>
<path d="M382.09,207.18L446.74,259.19"/>
<path d="M381.92,176.96L445.77,316.28"/>
<path d="M383.85,263.25L446.92,207.24"/>
<path d="M385.26,169.36L445.48,287.44"/>
<path d="M384.88,315.05L447.16,203.49"/>
<path d="M383.3,204.47L444.92,189.03"/>
<path d="M383.21,292.43L446.09,194.63"/>
<path d="M381.94,254.89L445.42,208.64"/>
<path d="M384.14,188.42L446.03,247.01"/>
<path d="M385.53,167.53L448.03,201.5"/>
<path d="M382.33,233.62L445.36,117.41"/>
<path d="M384.97,245.93L446.69,180.87"/>
<path d="M382.63,83.06L446.09,241.77"/>
<path d="M385.09,156.71L444.6,228.44"/>
<path d="M385.19,267.28L445.2,141.78"/>
<path d="M385.01,208.39L446.79,244.99"/>
<path d="M384.26,238.92L444.6,252.84"/>
<path d="M382.76,162.27L447,310.4"/>
<path d="M383.24,189.37L448.44,170.95"/>
<path d="M385.9,196.82L445.04,271.67"/>
<path d="M383.9,218.57L447.95,256.18"/>
<path d="M385.54,258.8L446.97,186.13"/>
<path d="M382.74,133.22L446.45,260.12"/>
<path d="M384.65,200.71L446.32,273.66"/>
<path d="M382.44,386L447.93,98.73"/>
<path d="M385.39,243.78L448.3,231.48"/>
<path d="M385.65,208.76L448.36,227"/>
<path d="M386.05,271.79L446.66,186.47"/>
<path d="M383.86,282.68L444.76,172.93"/>
<path d="M382.61,263.62L447.17,191.88"/>
<path d="M382.83,207.29L447.97,262.16"/>
<path d="M386.01,270.42L446,68.5"/>
<path d="M383.2,205.02L445.15,298.52"/>
<path d="M382.38,80.85L446.47,352.06"/>
<path d="M383.68,162.46L446.6,295.94"/>
<path d="M381.98,156.97L446.49,294.15"/>
<path d="M382.14,238.45L446.19,187.13"/>
<path d="M383.39,126.73L444.6,295.74"/>
<path d="M382.05,223.59L447.28,258.22"/>
<path d="M384.65,165.17L445.7,293.82"/>
<path d="M382.75,297.34L446.55,226.47"/>
<path d="M385.28,108.93L446.46,256.11"/>
<path d="M384.27,261.21L446.45,205.9"/>
<path d="M385.43,220.81L447.64,201.28"/>
<path d="M385.33,150.89L445.63,306.56"/>
<path d="M386.1,228.24L444.67,274.19"/>
<path d="M384.02,254.9L445.87,210.41"/>
<path d="M385.31,232.61L448.21,237.23"/>
<path d="M383.21,142.48L445.93,310.72"/>
<path d="M382.97,128.66L448.29,282.29"/>
<path d="M382.25,182.29L445.05,210.87"/>
<path d="M385.76,266.21L447.32,243.07"/>
<path d="M385.21,302.18L448.57,256.71"/>
<path d="M383.58,182.61L448.19,250.81"/>
<path d="M382.09,178.2L447.03,287.99"/>
<path d="M385.79,284.74L446.89,234.3"/>
<path d="M384.4,268.58L446.78,202.7"/>
<path d="M384.73,179.68L446.64,294.66"/>
<path d="M384.92,148.72L444.98,323.85"/>
<path d="M382.11,219.41L448.08,251.57"/>
<path d="M382.33,250.36L448.6,73.5"/>
<path d="M385.28,123.07L447.7,370.7"/>
<path d="M383.18,224.42L446.04,248.03"/>
<path d="M382.72,196.07L446.66,277.62"/>
<path d="M382.56,348.03L446.15,225.63"/>
<path d="M385.78,275.78L446.66,192.12"/>
<path d="M383.77,239.57L447.45,210.64"/>
<path d="M383.29,208.82L448.18,184.73"/>
<path d="M384.61,283.52L445.35,161.88"/>
<path d="M385.09,315.93L445.97,204.21"/>
<path d="M383.11,316.6L446.49,217.28"/>
<path d="M383.89,254.66L446.22,217.28"/>
<path d="M384.51,212.62L448.19,324.39"/>
<path d="M383.56,214.91L447.52,249.32"/>
<path d="M384.6,325.37L446.22,143.22"/>
<path d="M385.53,277.19L447.73,200.86"/>
<path d="M382.81,235.16L446.26,226.88"/>
<path d="M383.6,164.01L445.41,256.19"/>
<path d="M384.52,193.98L445.54,254.32"/>
<path d="M384.46,215.42L448.1,273.92"/>
<path d="M382.82,320.34L447.26,150.21"/>
<path d="M384.6,157.81L447.35,230.97"/>
<path d="M383.72,235.2L445.62,212.32"/>
<path d="M384.79,215.85L446.63,357"/>
<path d="M385.62,275.89L448.04,149.95"/>
<path d="M383.73,240.08L445.32,189.21"/>
<path d="M385.84,254.58L444.51,227.99"/>
<path d="M384.09,255.52L448.69,196.88"/>
<path d="M386.04,290.31L448,175.12"/>
<path d="M383.45,188.62L447.53,289.95"/>
<path d="M382.55,168.17L447.39,288.54"/>
<path d="M385.27,266.5L448.07,194.08"/>
<path d="M385.34,283.55L447.83,242.02"/>
<path d="M383.12,282.9L445.21,205.26"/>
<path d="M383.12,251.54L446.45,185.67"/>
<path d="M384.73,104.94L445.59,218.71"/>
<path d="M382.14,240L445.03,227.65"/>
<path d="M385.08,60L448.39,293.28"/>
<path d="M382.12,308.83L446.29,92.5"/>
<path d="M385.84,300.08L446.4,191.75"/>
<path d="M383.73,279.64L444.7,246.86"/>
<path d="M383.46,287.59L447.77,194.51"/>
<path d="M382.25,213.83L448.42,298.63"/>
<path d="M384.16,69.5L445.68,350.36"/>
<path d="M385.68,279.1L448.67,240.55"/>
<path d="M382.78,211.28L444.95,288.7"/>
<path d="M382.58,70.9L445.27,284.16"/>
<path d="M382.3,48.2L446.85,281.35"/>
<path d="M384.27,217.27L445.45,249.96"/>
<path d="M383.62,166.25L448.16,288.85"/>
<path d="M382.25,115.04L447.27,214.28"/>
<path d="M384.78,230.37L447.75,237.68"/>
<path d="M384.56,189.33L447.74,263.29"/>
<path d="M382.63,253.24L445.32,202.45"/>
<path d="M385.96,288.7L446.05,235.33"/>
<path d="M384.3,266.86L444.86,326.22"/>
<path d="M383.31,152.55L445.32,327.36"/>
<path d="M384.13,109.91L444.61,268.5"/>
<path d="M384.85,215.64L447.43,206.67"/>
<path d="M383.5,306.35L444.84,217.93"/>
<path d="M385.63,127.95L444.99,330.7"/>
<path d="M384.89,232.29L448.03,247.91"/>
<path d="M382.19,79.68L448.5,294.98"/>
<path d="M383.99,224.59L446.85,284.44"/>
<path d="M383.04,302.35L447.95,208.91"/>
<path d="M383.3,242.36L447.82,135.17"/>
<path d="M383.43,274.46L448.49,196.72"/>
<path d="M383.05,72.97L446.25,217.92"/>
<path d="M382.4,395L446.47,158.62"/>
<path d="M384.66,266.78L448.03,216.45"/>
<path d="M383.29,249.18L445.07,123.16"/>
<path d="M385.94,331.6L446.51,141.58"/>
<path d="M382.11,208.32L448.08,253.7"/>
<path d="M382.77,189.15L447.42,234.72"/>
<path d="M382.35,170.65L446.01,281.81"/>
<path d="M384.16,176.98L448.49,130.37"/>
<path d="M384.47,232.74L444.57,186.32"/>
<path d="M383.54,166.29L444.7,334.16"/>
<path d="M385.39,258.5L445.95,300.12"/>
<path d="M383.58,230.44L446.73,284.3"/>
<path d="M385.86,215.85L444.71,192.47"/>
<path d="M382.72,228.55L448.26,241.93"/>
<path d="M384.79,197.63L444.8,210.11"/>
<path d="M382.65,272.9L445.4,203.72"/>
</g>
<g fill="#000" fill-opacity="0.42" stroke="#000" stroke-opacity="0.55" stroke-width="0.7">
<circle cx="381.99" cy="79.2" r="2.05"/>
<circle cx="446.85" cy="264.33" r="2.05"/>
<circle cx="385.46" cy="234.99" r="2.05"/>
<circle cx="448.36" cy="241.68" r="2.05"/>
<circle cx="385.35" cy="303.46" r="2.05"/>
<circle cx="446.42" cy="208.79" r="2.05"/>
<circle cx="383.2" cy="273.09" r="2.05"/>
<circle cx="445.77" cy="209.31" r="2.05"/>
<circle cx="382.88" cy="146.99" r="2.05"/>
<circle cx="448.55" cy="287.76" r="2.05"/>
<circle cx="382.2" cy="259.33" r="2.05"/>
<circle cx="448.25" cy="140.87" r="2.05"/>
<circle cx="384.83" cy="189.22" r="2.05"/>
<circle cx="445.43" cy="144.37" r="2.05"/>
<circle cx="383.44" cy="316.48" r="2.05"/>
<circle cx="446.91" cy="102.53" r="2.05"/>
<circle cx="382.82" cy="201.39" r="2.05"/>
<circle cx="447.48" cy="234.97" r="2.05"/>
<circle cx="384.87" cy="179.01" r="2.05"/>
<circle cx="448.4" cy="289.35" r="2.05"/>
<circle cx="382.52" cy="194.24" r="2.05"/>
<circle cx="446.85" cy="282.76" r="2.05"/>
<circle cx="384.89" cy="179" r="2.05"/>
<circle cx="446.47" cy="250.01" r="2.05"/>
<circle cx="382.79" cy="292.3" r="2.05"/>
<circle cx="448.1" cy="183.01" r="2.05"/>
<circle cx="383.03" cy="320" r="2.05"/>
<circle cx="444.51" cy="197.02" r="2.05"/>
<circle cx="383.05" cy="307.44" r="2.05"/>
<circle cx="445.69" cy="175.26" r="2.05"/>
<circle cx="385.71" cy="167.59" r="2.05"/>
<circle cx="448.68" cy="222.98" r="2.05"/>
<circle cx="382.09" cy="207.18" r="2.05"/>
<circle cx="446.74" cy="259.19" r="2.05"/>
<circle cx="381.92" cy="176.96" r="2.05"/>
<circle cx="445.77" cy="316.28" r="2.05"/>
<circle cx="383.85" cy="263.25" r="2.05"/>
<circle cx="446.92" cy="207.24" r="2.05"/>
<circle cx="385.26" cy="169.36" r="2.05"/>
<circle cx="445.48" cy="287.44" r="2.05"/>
<circle cx="384.88" cy="315.05" r="2.05"/>
<circle cx="447.16" cy="203.49" r="2.05"/>
<circle cx="383.3" cy="204.47" r="2.05"/>
<circle cx="444.92" cy="189.03" r="2.05"/>
<circle cx="383.21" cy="292.43" r="2.05"/>
<circle cx="446.09" cy="194.63" r="2.05"/>
<circle cx="381.94" cy="254.89" r="2.05"/>
<circle cx="445.42" cy="208.64" r="2.05"/>
<circle cx="384.14" cy="188.42" r="2.05"/>
<circle cx="446.03" cy="247.01" r="2.05"/>
<circle cx="385.53" cy="167.53" r="2.05"/>
<circle cx="448.03" cy="201.5" r="2.05"/>
<circle cx="382.33" cy="233.62" r="2.05"/>
<circle cx="445.36" cy="117.41" r="2.05"/>
<circle cx="384.97" cy="245.93" r="2.05"/>
<circle cx="446.69" cy="180.87" r="2.05"/>
<circle cx="382.63" cy="83.06" r="2.05"/>
<circle cx="446.09" cy="241.77" r="2.05"/>
<circle cx="385.09" cy="156.71" r="2.05"/>
<circle cx="444.6" cy="228.44" r="2.05"/>
<circle cx="385.19" cy="267.28" r="2.05"/>
<circle cx="445.2" cy="141.78" r="2.05"/>
<circle cx="385.01" cy="208.39" r="2.05"/>
<circle cx="446.79" cy="244.99" r="2.05"/>
<circle cx="384.26" cy="238.92" r="2.05"/>
<circle cx="444.6" cy="252.84" r="2.05"/>
<circle cx="382.76" cy="162.27" r="2.05"/>
<circle cx="447" cy="310.4" r="2.05"/>
<circle cx="383.24" cy="189.37" r="2.05"/>
<circle cx="448.44" cy="170.95" r="2.05"/>
<circle cx="385.9" cy="196.82" r="2.05"/>
<circle cx="445.04" cy="271.67" r="2.05"/>
<circle cx="383.9" cy="218.57" r="2.05"/>
<circle cx="447.95" cy="256.18" r="2.05"/>
<circle cx="385.54" cy="258.8" r="2.05"/>
<circle cx="446.97" cy="186.13" r="2.05"/>
<circle cx="382.74" cy="133.22" r="2.05"/>
<circle cx="446.45" cy="260.12" r="2.05"/>
<circle cx="384.65" cy="200.71" r="2.05"/>
<circle cx="446.32" cy="273.66" r="2.05"/>
<circle cx="382.44" cy="386" r="2.05"/>
<circle cx="447.93" cy="98.73" r="2.05"/>
<circle cx="385.39" cy="243.78" r="2.05"/>
<circle cx="448.3" cy="231.48" r="2.05"/>
<circle cx="385.65" cy="208.76" r="2.05"/>
<circle cx="448.36" cy="227" r="2.05"/>
<circle cx="386.05" cy="271.79" r="2.05"/>
<circle cx="446.66" cy="186.47" r="2.05"/>
<circle cx="383.86" cy="282.68" r="2.05"/>
<circle cx="444.76" cy="172.93" r="2.05"/>
<circle cx="382.61" cy="263.62" r="2.05"/>
<circle cx="447.17" cy="191.88" r="2.05"/>
<circle cx="382.83" cy="207.29" r="2.05"/>
<circle cx="447.97" cy="262.16" r="2.05"/>
<circle cx="386.01" cy="270.42" r="2.05"/>
<circle cx="446" cy="68.5" r="2.05"/>
<circle cx="383.2" cy="205.02" r="2.05"/>
<circle cx="445.15" cy="298.52" r="2.05"/>
<circle cx="382.38" cy="80.85" r="2.05"/>
<circle cx="446.47" cy="352.06" r="2.05"/>
<circle cx="383.68" cy="162.46" r="2.05"/>
<circle cx="446.6" cy="295.94" r="2.05"/>
<circle cx="381.98" cy="156.97" r="2.05"/>
<circle cx="446.49" cy="294.15" r="2.05"/>
<circle cx="382.14" cy="238.45" r="2.05"/>
<circle cx="446.19" cy="187.13" r="2.05"/>
<circle cx="383.39" cy="126.73" r="2.05"/>
<circle cx="444.6" cy="295.74" r="2.05"/>
<circle cx="382.05" cy="223.59" r="2.05"/>
<circle cx="447.28" cy="258.22" r="2.05"/>
<circle cx="384.65" cy="165.17" r="2.05"/>
<circle cx="445.7" cy="293.82" r="2.05"/>
<circle cx="382.75" cy="297.34" r="2.05"/>
<circle cx="446.55" cy="226.47" r="2.05"/>
<circle cx="385.28" cy="108.93" r="2.05"/>
<circle cx="446.46" cy="256.11" r="2.05"/>
<circle cx="384.27" cy="261.21" r="2.05"/>
<circle cx="446.45" cy="205.9" r="2.05"/>
<circle cx="385.43" cy="220.81" r="2.05"/>
<circle cx="447.64" cy="201.28" r="2.05"/>
<circle cx="385.33" cy="150.89" r="2.05"/>
<circle cx="445.63" cy="306.56" r="2.05"/>
<circle cx="386.1" cy="228.24" r="2.05"/>
<circle cx="444.67" cy="274.19" r="2.05"/>
<circle cx="384.02" cy="254.9" r="2.05"/>
<circle cx="445.87" cy="210.41" r="2.05"/>
<circle cx="385.31" cy="232.61" r="2.05"/>
<circle cx="448.21" cy="237.23" r="2.05"/>
<circle cx="383.21" cy="142.48" r="2.05"/>
<circle cx="445.93" cy="310.72" r="2.05"/>
<circle cx="382.97" cy="128.66" r="2.05"/>
<circle cx="448.29" cy="282.29" r="2.05"/>
<circle cx="382.25" cy="182.29" r="2.05"/>
<circle cx="445.05" cy="210.87" r="2.05"/>
<circle cx="385.76" cy="266.21" r="2.05"/>
<circle cx="447.32" cy="243.07" r="2.05"/>
<circle cx="385.21" cy="302.18" r="2.05"/>
<circle cx="448.57" cy="256.71" r="2.05"/>
<circle cx="383.58" cy="182.61" r="2.05"/>
<circle cx="448.19" cy="250.81" r="2.05"/>
<circle cx="382.09" cy="178.2" r="2.05"/>
<circle cx="447.03" cy="287.99" r="2.05"/>
<circle cx="385.79" cy="284.74" r="2.05"/>
<circle cx="446.89" cy="234.3" r="2.05"/>
<circle cx="384.4" cy="268.58" r="2.05"/>
<circle cx="446.78" cy="202.7" r="2.05"/>
<circle cx="384.73" cy="179.68" r="2.05"/>
<circle cx="446.64" cy="294.66" r="2.05"/>
<circle cx="384.92" cy="148.72" r="2.05"/>
<circle cx="444.98" cy="323.85" r="2.05"/>
<circle cx="382.11" cy="219.41" r="2.05"/>
<circle cx="448.08" cy="251.57" r="2.05"/>
<circle cx="382.33" cy="250.36" r="2.05"/>
<circle cx="448.6" cy="73.5" r="2.05"/>
<circle cx="385.28" cy="123.07" r="2.05"/>
<circle cx="447.7" cy="370.7" r="2.05"/>
<circle cx="383.18" cy="224.42" r="2.05"/>
<circle cx="446.04" cy="248.03" r="2.05"/>
<circle cx="382.72" cy="196.07" r="2.05"/>
<circle cx="446.66" cy="277.62" r="2.05"/>
<circle cx="382.56" cy="348.03" r="2.05"/>
<circle cx="446.15" cy="225.63" r="2.05"/>
<circle cx="385.78" cy="275.78" r="2.05"/>
<circle cx="446.66" cy="192.12" r="2.05"/>
<circle cx="383.77" cy="239.57" r="2.05"/>
<circle cx="447.45" cy="210.64" r="2.05"/>
<circle cx="383.29" cy="208.82" r="2.05"/>
<circle cx="448.18" cy="184.73" r="2.05"/>
<circle cx="384.61" cy="283.52" r="2.05"/>
<circle cx="445.35" cy="161.88" r="2.05"/>
<circle cx="385.09" cy="315.93" r="2.05"/>
<circle cx="445.97" cy="204.21" r="2.05"/>
<circle cx="383.11" cy="316.6" r="2.05"/>
<circle cx="446.49" cy="217.28" r="2.05"/>
<circle cx="383.89" cy="254.66" r="2.05"/>
<circle cx="446.22" cy="217.28" r="2.05"/>
<circle cx="384.51" cy="212.62" r="2.05"/>
<circle cx="448.19" cy="324.39" r="2.05"/>
<circle cx="383.56" cy="214.91" r="2.05"/>
<circle cx="447.52" cy="249.32" r="2.05"/>
<circle cx="384.6" cy="325.37" r="2.05"/>
<circle cx="446.22" cy="143.22" r="2.05"/>
<circle cx="385.53" cy="277.19" r="2.05"/>
<circle cx="447.73" cy="200.86" r="2.05"/>
<circle cx="382.81" cy="235.16" r="2.05"/>
<circle cx="446.26" cy="226.88" r="2.05"/>
<circle cx="383.6" cy="164.01" r="2.05"/>
<circle cx="445.41" cy="256.19" r="2.05"/>
<circle cx="384.52" cy="193.98" r="2.05"/>
<circle cx="445.54" cy="254.32" r="2.05"/>
<circle cx="384.46" cy="215.42" r="2.05"/>
<circle cx="448.1" cy="273.92" r="2.05"/>
<circle cx="382.82" cy="320.34" r="2.05"/>
<circle cx="447.26" cy="150.21" r="2.05"/>
<circle cx="384.6" cy="157.81" r="2.05"/>
<circle cx="447.35" cy="230.97" r="2.05"/>
<circle cx="383.72" cy="235.2" r="2.05"/>
<circle cx="445.62" cy="212.32" r="2.05"/>
<circle cx="384.79" cy="215.85" r="2.05"/>
<circle cx="446.63" cy="357" r="2.05"/>
<circle cx="385.62" cy="275.89" r="2.05"/>
<circle cx="448.04" cy="149.95" r="2.05"/>
<circle cx="383.73" cy="240.08" r="2.05"/>
<circle cx="445.32" cy="189.21" r="2.05"/>
<circle cx="385.84" cy="254.58" r="2.05"/>
<circle cx="444.51" cy="227.99" r="2.05"/>
<circle cx="384.09" cy="255.52" r="2.05"/>
<circle cx="448.69" cy="196.88" r="2.05"/>
<circle cx="386.04" cy="290.31" r="2.05"/>
<circle cx="448" cy="175.12" r="2.05"/>
<circle cx="383.45" cy="188.62" r="2.05"/>
<circle cx="447.53" cy="289.95" r="2.05"/>
<circle cx="382.55" cy="168.17" r="2.05"/>
<circle cx="447.39" cy="288.54" r="2.05"/>
<circle cx="385.27" cy="266.5" r="2.05"/>
<circle cx="448.07" cy="194.08" r="2.05"/>
<circle cx="385.34" cy="283.55" r="2.05"/>
<circle cx="447.83" cy="242.02" r="2.05"/>
<circle cx="383.12" cy="282.9" r="2.05"/>
<circle cx="445.21" cy="205.26" r="2.05"/>
<circle cx="383.12" cy="251.54" r="2.05"/>
<circle cx="446.45" cy="185.67" r="2.05"/>
<circle cx="384.73" cy="104.94" r="2.05"/>
<circle cx="445.59" cy="218.71" r="2.05"/>
<circle cx="382.14" cy="240" r="2.05"/>
<circle cx="445.03" cy="227.65" r="2.05"/>
<circle cx="385.08" cy="60" r="2.05"/>
<circle cx="448.39" cy="293.28" r="2.05"/>
<circle cx="382.12" cy="308.83" r="2.05"/>
<circle cx="446.29" cy="92.5" r="2.05"/>
<circle cx="385.84" cy="300.08" r="2.05"/>
<circle cx="446.4" cy="191.75" r="2.05"/>
<circle cx="383.73" cy="279.64" r="2.05"/>
<circle cx="444.7" cy="246.86" r="2.05"/>
<circle cx="383.46" cy="287.59" r="2.05"/>
<circle cx="447.77" cy="194.51" r="2.05"/>
<circle cx="382.25" cy="213.83" r="2.05"/>
<circle cx="448.42" cy="298.63" r="2.05"/>
<circle cx="384.16" cy="69.5" r="2.05"/>
<circle cx="445.68" cy="350.36" r="2.05"/>
<circle cx="385.68" cy="279.1" r="2.05"/>
<circle cx="448.67" cy="240.55" r="2.05"/>
<circle cx="382.78" cy="211.28" r="2.05"/>
<circle cx="444.95" cy="288.7" r="2.05"/>
<circle cx="382.58" cy="70.9" r="2.05"/>
<circle cx="445.27" cy="284.16" r="2.05"/>
<circle cx="382.3" cy="48.2" r="2.05"/>
<circle cx="446.85" cy="281.35" r="2.05"/>
<circle cx="384.27" cy="217.27" r="2.05"/>
<circle cx="445.45" cy="249.96" r="2.05"/>
<circle cx="383.62" cy="166.25" r="2.05"/>
<circle cx="448.16" cy="288.85" r="2.05"/>
<circle cx="382.25" cy="115.04" r="2.05"/>
<circle cx="447.27" cy="214.28" r="2.05"/>
<circle cx="384.78" cy="230.37" r="2.05"/>
<circle cx="447.75" cy="237.68" r="2.05"/>
<circle cx="384.56" cy="189.33" r="2.05"/>
<circle cx="447.74" cy="263.29" r="2.05"/>
<circle cx="382.63" cy="253.24" r="2.05"/>
<circle cx="445.32" cy="202.45" r="2.05"/>
<circle cx="385.96" cy="288.7" r="2.05"/>
<circle cx="446.05" cy="235.33" r="2.05"/>
<circle cx="384.3" cy="266.86" r="2.05"/>
<circle cx="444.86" cy="326.22" r="2.05"/>
<circle cx="383.31" cy="152.55" r="2.05"/>
<circle cx="445.32" cy="327.36" r="2.05"/>
<circle cx="384.13" cy="109.91" r="2.05"/>
<circle cx="444.61" cy="268.5" r="2.05"/>
<circle cx="384.85" cy="215.64" r="2.05"/>
<circle cx="447.43" cy="206.67" r="2.05"/>
<circle cx="383.5" cy="306.35" r="2.05"/>
<circle cx="444.84" cy="217.93" r="2.05"/>
<circle cx="385.63" cy="127.95" r="2.05"/>
<circle cx="444.99" cy="330.7" r="2.05"/>
<circle cx="384.89" cy="232.29" r="2.05"/>
<circle cx="448.03" cy="247.91" r="2.05"/>
<circle cx="382.19" cy="79.68" r="2.05"/>
<circle cx="448.5" cy="294.98" r="2.05"/>
<circle cx="383.99" cy="224.59" r="2.05"/>
<circle cx="446.85" cy="284.44" r="2.05"/>
<circle cx="383.04" cy="302.35" r="2.05"/>
<circle cx="447.95" cy="208.91" r="2.05"/>
<circle cx="383.3" cy="242.36" r="2.05"/>
<circle cx="447.82" cy="135.17" r="2.05"/>
<circle cx="383.43" cy="274.46" r="2.05"/>
<circle cx="448.49" cy="196.72" r="2.05"/>
<circle cx="383.05" cy="72.97" r="2.05"/>
<circle cx="446.25" cy="217.92" r="2.05"/>
<circle cx="382.4" cy="395" r="2.05"/>
<circle cx="446.47" cy="158.62" r="2.05"/>
<circle cx="384.66" cy="266.78" r="2.05"/>
<circle cx="448.03" cy="216.45" r="2.05"/>
<circle cx="383.29" cy="249.18" r="2.05"/>
<circle cx="445.07" cy="123.16" r="2.05"/>
<circle cx="385.94" cy="331.6" r="2.05"/>
<circle cx="446.51" cy="141.58" r="2.05"/>
<circle cx="382.11" cy="208.32" r="2.05"/>
<circle cx="448.08" cy="253.7" r="2.05"/>
<circle cx="382.77" cy="189.15" r="2.05"/>
<circle cx="447.42" cy="234.72" r="2.05"/>
<circle cx="382.35" cy="170.65" r="2.05"/>
<circle cx="446.01" cy="281.81" r="2.05"/>
<circle cx="384.16" cy="176.98" r="2.05"/>
<circle cx="448.49" cy="130.37" r="2.05"/>
<circle cx="384.47" cy="232.74" r="2.05"/>
<circle cx="444.57" cy="186.32" r="2.05"/>
<circle cx="383.54" cy="166.29" r="2.05"/>
<circle cx="444.7" cy="334.16" r="2.05"/>
<circle cx="385.39" cy="258.5" r="2.05"/>
<circle cx="445.95" cy="300.12" r="2.05"/>
<circle cx="383.58" cy="230.44" r="2.05"/>
<circle cx="446.73" cy="284.3" r="2.05"/>
<circle cx="385.86" cy="215.85" r="2.05"/>
<circle cx="444.71" cy="192.47" r="2.05"/>
<circle cx="382.72" cy="228.55" r="2.05"/>
<circle cx="448.26" cy="241.93" r="2.05"/>
<circle cx="384.79" cy="197.63" r="2.05"/>
<circle cx="444.8" cy="210.11" r="2.05"/>
<circle cx="382.65" cy="272.9" r="2.05"/>
<circle cx="445.4" cy="203.72" r="2.05"/>
</g>
<path d="M374.4,48.2 L374.12,51.11 L373.86,54.03 L373.61,56.94 L373.38,59.86 L373.15,62.77 L372.95,65.69 L372.76,68.6 L372.59,71.51 L372.44,74.43 L372.3,77.34 L372.19,80.26 L372.1,83.17 L372.04,86.09 L371.98,89 L371.93,91.91 L371.87,94.83 L371.78,97.74 L371.67,100.66 L371.45,103.57 L371.12,106.49 L370.7,109.4 L370.24,112.31 L369.76,115.23 L369.28,118.14 L368.84,121.06 L368.39,123.97 L367.92,126.89 L367.44,129.8 L366.96,132.71 L366.48,135.63 L366.02,138.54 L365.58,141.46 L365.15,144.37 L364.72,147.29 L364.3,150.2 L363.89,153.11 L363.5,156.03 L363.13,158.94 L362.78,161.86 L362.45,164.77 L362.14,167.69 L361.84,170.6 L361.55,173.51 L361.26,176.43 L360.97,179.34 L360.67,182.26 L360.37,185.17 L360.07,188.09 L359.78,191 L359.5,193.91 L359.25,196.83 L359.02,199.74 L358.8,202.66 L358.58,205.57 L358.35,208.49 L358.14,211.4 L357.95,214.31 L357.79,217.23 L357.67,220.14 L357.61,223.06 L357.61,225.97 L357.67,228.89 L357.78,231.8 L357.92,234.71 L358.08,237.63 L358.23,240.54 L358.38,243.46 L358.55,246.37 L358.73,249.29 L358.93,252.2 L359.14,255.11 L359.38,258.03 L359.62,260.94 L359.89,263.86 L360.18,266.77 L360.5,269.69 L360.89,272.6 L361.34,275.51 L361.82,278.43 L362.34,281.34 L362.89,284.26 L363.44,287.17 L364,290.09 L364.56,293 L365.09,295.91 L365.6,298.83 L366.09,301.74 L366.6,304.66 L367.11,307.57 L367.62,310.49 L368.1,313.4 L368.54,316.31 L368.91,319.23 L369.23,322.14 L369.52,325.06 L369.79,327.97 L370.04,330.89 L370.28,333.8 L370.5,336.71 L370.71,339.63 L370.91,342.54 L371.11,345.46 L371.3,348.37 L371.48,351.29 L371.66,354.2 L371.82,357.11 L371.98,360.03 L372.13,362.94 L372.28,365.86 L372.43,368.77 L372.57,371.69 L372.72,374.6 L372.87,377.51 L373.02,380.43 L373.18,383.34 L373.33,386.26 L373.49,389.17 L373.64,392.09 L373.8,395" fill="none" stroke="#1a1a1a" stroke-width="0.9"/>
<line x1="374.6" y1="48.2" x2="374.6" y2="395" stroke="#2a2a2a" stroke-width="0.8"/>
<line x1="361.2" y1="179" x2="381.4" y2="179" stroke="#333" stroke-width="1"/>
<line x1="357.6" y1="224.5" x2="384.6" y2="224.5" stroke="#333" stroke-width="1"/>
<line x1="360.2" y1="267.2" x2="393.5" y2="267.2" stroke="#333" stroke-width="1"/>
<path d="M457.5,69.6 L457.5,72.13 L457.52,74.66 L457.54,77.19 L457.57,79.72 L457.61,82.25 L457.65,84.78 L457.7,87.31 L457.75,89.84 L457.81,92.37 L457.87,94.9 L457.93,97.43 L458,99.96 L458.08,102.49 L458.19,105.02 L458.32,107.55 L458.47,110.08 L458.65,112.61 L458.84,115.14 L459.05,117.67 L459.27,120.21 L459.5,122.74 L459.74,125.27 L459.99,127.8 L460.24,130.33 L460.49,132.86 L460.74,135.39 L461,137.92 L461.24,140.45 L461.49,142.98 L461.75,145.51 L462.01,148.04 L462.28,150.57 L462.56,153.1 L462.85,155.63 L463.16,158.16 L463.48,160.69 L463.81,163.22 L464.17,165.75 L464.54,168.28 L464.93,170.81 L465.37,173.34 L465.85,175.87 L466.37,178.4 L466.93,180.93 L467.51,183.46 L468.1,185.99 L468.71,188.52 L469.33,191.05 L469.94,193.58 L470.54,196.11 L471.12,198.64 L471.7,201.17 L472.31,203.7 L472.93,206.23 L473.56,208.76 L474.17,211.29 L474.75,213.82 L475.3,216.35 L475.8,218.88 L476.25,221.42 L476.73,223.95 L477.21,226.48 L477.65,229.01 L478.02,231.54 L478.28,234.07 L478.4,236.6 L478.39,239.13 L478.34,241.66 L478.26,244.19 L478.16,246.72 L478.04,249.25 L477.83,251.78 L477.36,254.31 L476.7,256.84 L475.94,259.37 L475.14,261.9 L474.4,264.43 L473.78,266.96 L473.19,269.49 L472.6,272.02 L472.03,274.55 L471.46,277.08 L470.9,279.61 L470.36,282.14 L469.84,284.67 L469.33,287.2 L468.85,289.73 L468.39,292.26 L467.95,294.79 L467.52,297.32 L467.11,299.85 L466.71,302.38 L466.32,304.91 L465.93,307.44 L465.55,309.97 L465.16,312.5 L464.78,315.03 L464.39,317.56 L463.98,320.09 L463.58,322.63 L463.16,325.16 L462.75,327.69 L462.34,330.22 L461.93,332.75 L461.53,335.28 L461.13,337.81 L460.75,340.34 L460.37,342.87 L460,345.4 L459.63,347.93 L459.27,350.46 L458.92,352.99 L458.57,355.52 L458.24,358.05 L457.93,360.58 L457.63,363.11 L457.34,365.64 L457.06,368.17 L456.8,370.7" fill="none" stroke="#1a1a1a" stroke-width="0.9"/>
<line x1="456.4" y1="69.6" x2="456.4" y2="370.7" stroke="#2a2a2a" stroke-width="0.8"/>
<line x1="437.8" y1="199" x2="471.5" y2="199" stroke="#333" stroke-width="1"/>
<line x1="458.9" y1="237.3" x2="477.8" y2="237.3" stroke="#333" stroke-width="1"/>
<line x1="437.8" y1="266" x2="473.8" y2="266" stroke="#333" stroke-width="1"/>
<line x1="437.8" y1="237.3" x2="450.3" y2="237.3" stroke="#999" stroke-width="1"/>
<g stroke="#222" fill="none">
<line x1="377.25" y1="48.2" x2="377.25" y2="179" stroke-width="1.4"/>
<line x1="377.25" y1="267.2" x2="377.25" y2="395" stroke-width="1.4"/>
<rect x="374.8" y="179" width="4.9" height="88.2" stroke-width="1.4" fill="none"/>
<line x1="374.8" y1="224.5" x2="379.7" y2="224.5" stroke-width="2.4"/>
</g>
<g stroke="#222" fill="none">
<line x1="453.15" y1="100.8" x2="453.15" y2="199" stroke-width="1.4"/>
<line x1="453.15" y1="266" x2="453.15" y2="357" stroke-width="1.4"/>
<rect x="450.5" y="199" width="5.3" height="67" stroke-width="1.4" fill="none"/>
<line x1="450.5" y1="237.3" x2="455.8" y2="237.3" stroke-width="2.4"/>
</g>
<path d="M436.7,70.9 V69.6 H457.5" stroke="#1a1a1a" stroke-width="1.3" fill="none"/>
<g stroke="#000" stroke-width="1.8" fill="none">
<path d="M346.4,30 V412.6 H484.4"/>
<line x1="342" y1="155.2" x2="346.4" y2="155.2"/>
<line x1="342" y1="289.1" x2="346.4" y2="289.1"/>
<line x1="383.9" y1="412.6" x2="383.9" y2="417"/>
<line x1="446.5" y1="412.6" x2="446.5" y2="417"/>
</g>
<g font-family='"Liberation Sans", sans-serif' font-size="12.6" fill="#262626" text-anchor="end">
<text x="338.9" y="159.8">0.5</text>
<text x="338.9" y="293.7">0.0</text>
</g>
<g font-family='"Liberation Sans", sans-serif' font-size="12.6" fill="#262626" text-anchor="middle">
<text x="383.9" y="429.2">inlying</text>
<text x="446.5" y="429.2">outlying</text>
</g>
<text x="416" y="447.6" font-family='"Liberation Sans", sans-serif' font-size="16.4" text-anchor="middle">Rank</text>
<text transform="translate(314.7,222.2) rotate(-90)" font-family='"Liberation Sans", sans-serif' font-size="16.3" text-anchor="middle">Beta Weight</text>
<text x="299.4" y="9.9" font-family='"Liberation Sans", sans-serif' font-size="10.5" font-weight="bold">B</text>
<text x="345.8" y="19.9" font-family='"Liberation Sans", sans-serif' font-size="19.5" >Low Variance</text>
<g stroke="#000" stroke-opacity="0.22" stroke-width="1.7" fill="none">
<path d="M585.05,281L648.45,182.05"/>
<path d="M586.37,157.03L645.61,224.14"/>
<path d="M585.64,163.55L648.52,329.33"/>
<path d="M585.32,157.09L645.68,208.04"/>
<path d="M585.25,151.17L646.95,165.87"/>
<path d="M586.19,163.28L648.8,217.1"/>
<path d="M585.3,110.41L645.38,296.18"/>
<path d="M586.38,129.66L645.83,317.05"/>
<path d="M588.29,89.99L646.78,273.59"/>
<path d="M585.75,50.5L646.03,301.96"/>
<path d="M585.56,133.61L647.29,333.04"/>
<path d="M586.61,131.08L646.94,276.6"/>
<path d="M587.03,63.88L647.66,290.51"/>
<path d="M588.29,200.16L648.62,257.45"/>
<path d="M586.99,170.32L648.29,204.73"/>
<path d="M588.59,144.56L648.55,270.66"/>
<path d="M585.45,232.79L647.37,134.14"/>
<path d="M585.14,118.84L645.09,335.1"/>
<path d="M588.48,94.38L645.55,276.79"/>
<path d="M587.39,219.6L648.32,196.67"/>
<path d="M586.12,197.12L645.3,315.53"/>
<path d="M588.13,122.52L645.78,319.53"/>
<path d="M585.18,106.56L647.13,329.83"/>
<path d="M586.63,238.93L645.53,146.13"/>
<path d="M586.91,138.67L648.75,292.2"/>
<path d="M585.69,167.17L644.82,236.02"/>
<path d="M586.97,269.01L647.18,169.14"/>
<path d="M586.56,190.63L644.9,78.5"/>
<path d="M588.04,187.83L644.9,234.98"/>
<path d="M587.02,156.85L645.78,159.07"/>
<path d="M588.18,158.85L645.44,251.98"/>
<path d="M585.56,169.26L645.33,316.07"/>
<path d="M585.01,165.32L648.58,294.17"/>
<path d="M586.29,165.76L647.87,303.62"/>
<path d="M587.27,141.96L646.52,290.01"/>
<path d="M586.65,118.93L647.74,352.21"/>
<path d="M585.25,119.26L645.5,319.99"/>
<path d="M585.8,200.18L648.64,109.87"/>
<path d="M585.35,197.16L646.93,210.1"/>
<path d="M588.85,190.89L646.29,208.07"/>
<path d="M586.91,106.54L647.38,200.09"/>
<path d="M587.66,142.12L647.82,342.18"/>
<path d="M587.82,196.63L647.29,189.93"/>
<path d="M585.1,216.43L647.56,231.51"/>
<path d="M585.42,213.59L648.27,214.28"/>
<path d="M587.6,163.18L647.22,288.54"/>
<path d="M586.54,215.38L648.5,204.01"/>
<path d="M585.99,164.77L647.05,175.45"/>
<path d="M586.02,106.84L648.01,226.34"/>
<path d="M585.27,169.07L647.04,224.72"/>
<path d="M586.25,129.36L647.14,232.8"/>
<path d="M585.87,235.43L646.09,250.95"/>
<path d="M587,98.55L648,395.7"/>
<path d="M585.91,146.24L646.88,202.78"/>
<path d="M587.63,200.27L646.78,104.99"/>
<path d="M587.71,106.7L646.81,268.86"/>
<path d="M586.36,164.55L648.35,285.43"/>
<path d="M586.86,192.3L646.9,220.88"/>
<path d="M586.85,170.69L647.99,168.83"/>
<path d="M587.36,122.19L646.7,330.76"/>
<path d="M586.72,226.14L645.45,196.03"/>
<path d="M586.4,154.42L647.27,220.7"/>
<path d="M588.28,202.86L647.85,265.75"/>
<path d="M588.33,147.94L648.76,151.31"/>
<path d="M587.16,186.12L644.94,181.77"/>
<path d="M588.08,165.15L648.68,159.82"/>
<path d="M588.13,135.07L646.24,321.37"/>
<path d="M588.3,161.61L645.22,233.51"/>
<path d="M587.87,141.82L647.01,180.31"/>
<path d="M586.21,135.61L646.97,243.27"/>
<path d="M586.63,142.77L646.06,194.55"/>
<path d="M588.3,148.03L648.24,344.01"/>
<path d="M587.69,158.95L646.36,245.23"/>
<path d="M587.94,138.56L646.79,360.31"/>
<path d="M588.02,108.08L645.3,312.62"/>
<path d="M587.39,73.92L648.59,295.9"/>
<path d="M586.52,81.29L647.53,306.82"/>
<path d="M588.01,209.12L645.68,282.31"/>
<path d="M588.41,145.91L648.63,239.23"/>
<path d="M587.77,142L647.08,226.28"/>
<path d="M586.94,107.35L645.8,295.53"/>
<path d="M586.07,117.95L645.67,238.63"/>
<path d="M585.66,231.8L648.5,146.07"/>
<path d="M587.81,146.62L645.58,190.91"/>
<path d="M586.44,255.32L648.4,206.06"/>
<path d="M586.57,177.15L648.39,204.07"/>
<path d="M588.44,202L646.21,244.47"/>
<path d="M586.44,175.19L647.9,363.08"/>
<path d="M586.28,142.79L647.7,242.77"/>
<path d="M586.78,186.6L647.08,232.81"/>
<path d="M588.11,180.84L648.63,246.85"/>
<path d="M588.49,155.9L645.82,287.13"/>
<path d="M587.26,116.36L645.54,248.01"/>
<path d="M587.49,250.41L645.88,87"/>
<path d="M588,91.43L647.3,247.82"/>
<path d="M586.21,196.43L646.88,231.94"/>
<path d="M586.9,211.44L648.49,164.98"/>
<path d="M588.08,155.25L648.77,200.96"/>
<path d="M585.18,136.42L648.32,191.73"/>
<path d="M587.7,48L647.01,229.83"/>
<path d="M586.19,123.47L645,242.62"/>
<path d="M586.54,188.72L646.59,243.46"/>
<path d="M585.51,168.76L646.37,265.87"/>
<path d="M585.23,204.03L646.97,157.45"/>
<path d="M586.12,137.38L647.43,237.63"/>
<path d="M587.62,132.07L644.92,271.11"/>
<path d="M585.74,171.15L646.59,159.82"/>
<path d="M586.62,112.3L645.23,279.64"/>
<path d="M587.66,247.62L647.42,233.05"/>
<path d="M587.13,178.02L646.36,175.96"/>
<path d="M586.21,202.41L648.16,262.26"/>
<path d="M588.08,189.17L647.85,276.18"/>
<path d="M588.09,241.77L645.27,214.03"/>
<path d="M585.79,122.37L644.96,294.4"/>
<path d="M588.69,206.25L647.86,163.02"/>
<path d="M588.12,165.33L647.6,261.77"/>
<path d="M586.22,108.16L648.39,375.93"/>
<path d="M587.51,95.55L645.38,323.43"/>
<path d="M586.03,108.7L647.72,270.91"/>
<path d="M585.55,273.25L647.36,170.5"/>
<path d="M587.48,170.73L647.18,240.22"/>
<path d="M586.05,172.32L645.72,296.51"/>
<path d="M588.31,193.72L645.74,242.21"/>
<path d="M586.46,199.26L646.94,182.27"/>
<path d="M588.91,187.94L646.61,196.4"/>
<path d="M586.62,141.21L648.48,303.69"/>
<path d="M586.23,177.95L645.76,268.06"/>
<path d="M586.85,223.21L645.3,244.89"/>
<path d="M588.74,237.22L646,149.97"/>
<path d="M585.78,155.23L646.29,295.51"/>
<path d="M586.75,264.01L647.75,200.1"/>
<path d="M586.76,136.19L647.76,309.79"/>
<path d="M587.16,183.52L646.71,281.13"/>
<path d="M587.71,184.1L646.31,233.09"/>
<path d="M587.71,149.76L646.88,210.39"/>
<path d="M586.84,173.28L647.29,262.89"/>
<path d="M586.98,135.56L646.73,213.39"/>
<path d="M588.65,222.43L648.3,205.33"/>
<path d="M587.86,271.73L646.26,156.47"/>
<path d="M587.65,63.49L645.68,176.7"/>
<path d="M585.51,154.17L647.46,138.53"/>
<path d="M585.5,283.2L645.58,299.79"/>
<path d="M588.41,87.75L646.69,297.09"/>
<path d="M587.22,230.32L644.99,206.83"/>
<path d="M586.9,53.53L645.55,285.43"/>
<path d="M587.61,79.03L646.42,384"/>
<path d="M585.66,124.93L647.21,310.9"/>
<path d="M586.61,163.9L648.36,246.88"/>
<path d="M585.98,200.17L645.6,247.98"/>
<path d="M588.51,121.33L645.28,328.91"/>
<path d="M588.66,173.32L644.87,161.64"/>
<path d="M588.57,114.7L647.24,357.38"/>
<path d="M586.26,170.23L645.95,259.83"/>
<path d="M588.65,236.27L648.49,222.95"/>
<path d="M585.43,193.8L645.31,243.28"/>
<path d="M585.38,158.17L647.46,148.06"/>
<path d="M585.59,180.07L646.17,187.85"/>
<path d="M586.97,155.08L647.93,255.64"/>
<path d="M586.64,200.68L645.23,136.77"/>
<path d="M585.79,90.46L647.58,363.03"/>
</g>
<g fill="#000" fill-opacity="0.42" stroke="#000" stroke-opacity="0.55" stroke-width="0.7">
<circle cx="585.05" cy="281" r="2.05"/>
<circle cx="648.45" cy="182.05" r="2.05"/>
<circle cx="586.37" cy="157.03" r="2.05"/>
<circle cx="645.61" cy="224.14" r="2.05"/>
<circle cx="585.64" cy="163.55" r="2.05"/>
<circle cx="648.52" cy="329.33" r="2.05"/>
<circle cx="585.32" cy="157.09" r="2.05"/>
<circle cx="645.68" cy="208.04" r="2.05"/>
<circle cx="585.25" cy="151.17" r="2.05"/>
<circle cx="646.95" cy="165.87" r="2.05"/>
<circle cx="586.19" cy="163.28" r="2.05"/>
<circle cx="648.8" cy="217.1" r="2.05"/>
<circle cx="585.3" cy="110.41" r="2.05"/>
<circle cx="645.38" cy="296.18" r="2.05"/>
<circle cx="586.38" cy="129.66" r="2.05"/>
<circle cx="645.83" cy="317.05" r="2.05"/>
<circle cx="588.29" cy="89.99" r="2.05"/>
<circle cx="646.78" cy="273.59" r="2.05"/>
<circle cx="585.75" cy="50.5" r="2.05"/>
<circle cx="646.03" cy="301.96" r="2.05"/>
<circle cx="585.56" cy="133.61" r="2.05"/>
<circle cx="647.29" cy="333.04" r="2.05"/>
<circle cx="586.61" cy="131.08" r="2.05"/>
<circle cx="646.94" cy="276.6" r="2.05"/>
<circle cx="587.03" cy="63.88" r="2.05"/>
<circle cx="647.66" cy="290.51" r="2.05"/>
<circle cx="588.29" cy="200.16" r="2.05"/>
<circle cx="648.62" cy="257.45" r="2.05"/>
<circle cx="586.99" cy="170.32" r="2.05"/>
<circle cx="648.29" cy="204.73" r="2.05"/>
<circle cx="588.59" cy="144.56" r="2.05"/>
<circle cx="648.55" cy="270.66" r="2.05"/>
<circle cx="585.45" cy="232.79" r="2.05"/>
<circle cx="647.37" cy="134.14" r="2.05"/>
<circle cx="585.14" cy="118.84" r="2.05"/>
<circle cx="645.09" cy="335.1" r="2.05"/>
<circle cx="588.48" cy="94.38" r="2.05"/>
<circle cx="645.55" cy="276.79" r="2.05"/>
<circle cx="587.39" cy="219.6" r="2.05"/>
<circle cx="648.32" cy="196.67" r="2.05"/>
<circle cx="586.12" cy="197.12" r="2.05"/>
<circle cx="645.3" cy="315.53" r="2.05"/>
<circle cx="588.13" cy="122.52" r="2.05"/>
<circle cx="645.78" cy="319.53" r="2.05"/>
<circle cx="585.18" cy="106.56" r="2.05"/>
<circle cx="647.13" cy="329.83" r="2.05"/>
<circle cx="586.63" cy="238.93" r="2.05"/>
<circle cx="645.53" cy="146.13" r="2.05"/>
<circle cx="586.91" cy="138.67" r="2.05"/>
<circle cx="648.75" cy="292.2" r="2.05"/>
<circle cx="585.69" cy="167.17" r="2.05"/>
<circle cx="644.82" cy="236.02" r="2.05"/>
<circle cx="586.97" cy="269.01" r="2.05"/>
<circle cx="647.18" cy="169.14" r="2.05"/>
<circle cx="586.56" cy="190.63" r="2.05"/>
<circle cx="644.9" cy="78.5" r="2.05"/>
<circle cx="588.04" cy="187.83" r="2.05"/>
<circle cx="644.9" cy="234.98" r="2.05"/>
<circle cx="587.02" cy="156.85" r="2.05"/>
<circle cx="645.78" cy="159.07" r="2.05"/>
<circle cx="588.18" cy="158.85" r="2.05"/>
<circle cx="645.44" cy="251.98" r="2.05"/>
<circle cx="585.56" cy="169.26" r="2.05"/>
<circle cx="645.33" cy="316.07" r="2.05"/>
<circle cx="585.01" cy="165.32" r="2.05"/>
<circle cx="648.58" cy="294.17" r="2.05"/>
<circle cx="586.29" cy="165.76" r="2.05"/>
<circle cx="647.87" cy="303.62" r="2.05"/>
<circle cx="587.27" cy="141.96" r="2.05"/>
<circle cx="646.52" cy="290.01" r="2.05"/>
<circle cx="586.65" cy="118.93" r="2.05"/>
<circle cx="647.74" cy="352.21" r="2.05"/>
<circle cx="585.25" cy="119.26" r="2.05"/>
<circle cx="645.5" cy="319.99" r="2.05"/>
<circle cx="585.8" cy="200.18" r="2.05"/>
<circle cx="648.64" cy="109.87" r="2.05"/>
<circle cx="585.35" cy="197.16" r="2.05"/>
<circle cx="646.93" cy="210.1" r="2.05"/>
<circle cx="588.85" cy="190.89" r="2.05"/>
<circle cx="646.29" cy="208.07" r="2.05"/>
<circle cx="586.91" cy="106.54" r="2.05"/>
<circle cx="647.38" cy="200.09" r="2.05"/>
<circle cx="587.66" cy="142.12" r="2.05"/>
<circle cx="647.82" cy="342.18" r="2.05"/>
<circle cx="587.82" cy="196.63" r="2.05"/>
<circle cx="647.29" cy="189.93" r="2.05"/>
<circle cx="585.1" cy="216.43" r="2.05"/>
<circle cx="647.56" cy="231.51" r="2.05"/>
<circle cx="585.42" cy="213.59" r="2.05"/>
<circle cx="648.27" cy="214.28" r="2.05"/>
<circle cx="587.6" cy="163.18" r="2.05"/>
<circle cx="647.22" cy="288.54" r="2.05"/>
<circle cx="586.54" cy="215.38" r="2.05"/>
<circle cx="648.5" cy="204.01" r="2.05"/>
<circle cx="585.99" cy="164.77" r="2.05"/>
<circle cx="647.05" cy="175.45" r="2.05"/>
<circle cx="586.02" cy="106.84" r="2.05"/>
<circle cx="648.01" cy="226.34" r="2.05"/>
<circle cx="585.27" cy="169.07" r="2.05"/>
<circle cx="647.04" cy="224.72" r="2.05"/>
<circle cx="586.25" cy="129.36" r="2.05"/>
<circle cx="647.14" cy="232.8" r="2.05"/>
<circle cx="585.87" cy="235.43" r="2.05"/>
<circle cx="646.09" cy="250.95" r="2.05"/>
<circle cx="587" cy="98.55" r="2.05"/>
<circle cx="648" cy="395.7" r="2.05"/>
<circle cx="585.91" cy="146.24" r="2.05"/>
<circle cx="646.88" cy="202.78" r="2.05"/>
<circle cx="587.63" cy="200.27" r="2.05"/>
<circle cx="646.78" cy="104.99" r="2.05"/>
<circle cx="587.71" cy="106.7" r="2.05"/>
<circle cx="646.81" cy="268.86" r="2.05"/>
<circle cx="586.36" cy="164.55" r="2.05"/>
<circle cx="648.35" cy="285.43" r="2.05"/>
<circle cx="586.86" cy="192.3" r="2.05"/>
<circle cx="646.9" cy="220.88" r="2.05"/>
<circle cx="586.85" cy="170.69" r="2.05"/>
<circle cx="647.99" cy="168.83" r="2.05"/>
<circle cx="587.36" cy="122.19" r="2.05"/>
<circle cx="646.7" cy="330.76" r="2.05"/>
<circle cx="586.72" cy="226.14" r="2.05"/>
<circle cx="645.45" cy="196.03" r="2.05"/>
<circle cx="586.4" cy="154.42" r="2.05"/>
<circle cx="647.27" cy="220.7" r="2.05"/>
<circle cx="588.28" cy="202.86" r="2.05"/>
<circle cx="647.85" cy="265.75" r="2.05"/>
<circle cx="588.33" cy="147.94" r="2.05"/>
<circle cx="648.76" cy="151.31" r="2.05"/>
<circle cx="587.16" cy="186.12" r="2.05"/>
<circle cx="644.94" cy="181.77" r="2.05"/>
<circle cx="588.08" cy="165.15" r="2.05"/>
<circle cx="648.68" cy="159.82" r="2.05"/>
<circle cx="588.13" cy="135.07" r="2.05"/>
<circle cx="646.24" cy="321.37" r="2.05"/>
<circle cx="588.3" cy="161.61" r="2.05"/>
<circle cx="645.22" cy="233.51" r="2.05"/>
<circle cx="587.87" cy="141.82" r="2.05"/>
<circle cx="647.01" cy="180.31" r="2.05"/>
<circle cx="586.21" cy="135.61" r="2.05"/>
<circle cx="646.97" cy="243.27" r="2.05"/>
<circle cx="586.63" cy="142.77" r="2.05"/>
<circle cx="646.06" cy="194.55" r="2.05"/>
<circle cx="588.3" cy="148.03" r="2.05"/>
<circle cx="648.24" cy="344.01" r="2.05"/>
<circle cx="587.69" cy="158.95" r="2.05"/>
<circle cx="646.36" cy="245.23" r="2.05"/>
<circle cx="587.94" cy="138.56" r="2.05"/>
<circle cx="646.79" cy="360.31" r="2.05"/>
<circle cx="588.02" cy="108.08" r="2.05"/>
<circle cx="645.3" cy="312.62" r="2.05"/>
<circle cx="587.39" cy="73.92" r="2.05"/>
<circle cx="648.59" cy="295.9" r="2.05"/>
<circle cx="586.52" cy="81.29" r="2.05"/>
<circle cx="647.53" cy="306.82" r="2.05"/>
<circle cx="588.01" cy="209.12" r="2.05"/>
<circle cx="645.68" cy="282.31" r="2.05"/>
<circle cx="588.41" cy="145.91" r="2.05"/>
<circle cx="648.63" cy="239.23" r="2.05"/>
<circle cx="587.77" cy="142" r="2.05"/>
<circle cx="647.08" cy="226.28" r="2.05"/>
<circle cx="586.94" cy="107.35" r="2.05"/>
<circle cx="645.8" cy="295.53" r="2.05"/>
<circle cx="586.07" cy="117.95" r="2.05"/>
<circle cx="645.67" cy="238.63" r="2.05"/>
<circle cx="585.66" cy="231.8" r="2.05"/>
<circle cx="648.5" cy="146.07" r="2.05"/>
<circle cx="587.81" cy="146.62" r="2.05"/>
<circle cx="645.58" cy="190.91" r="2.05"/>
<circle cx="586.44" cy="255.32" r="2.05"/>
<circle cx="648.4" cy="206.06" r="2.05"/>
<circle cx="586.57" cy="177.15" r="2.05"/>
<circle cx="648.39" cy="204.07" r="2.05"/>
<circle cx="588.44" cy="202" r="2.05"/>
<circle cx="646.21" cy="244.47" r="2.05"/>
<circle cx="586.44" cy="175.19" r="2.05"/>
<circle cx="647.9" cy="363.08" r="2.05"/>
<circle cx="586.28" cy="142.79" r="2.05"/>
<circle cx="647.7" cy="242.77" r="2.05"/>
<circle cx="586.78" cy="186.6" r="2.05"/>
<circle cx="647.08" cy="232.81" r="2.05"/>
<circle cx="588.11" cy="180.84" r="2.05"/>
<circle cx="648.63" cy="246.85" r="2.05"/>
<circle cx="588.49" cy="155.9" r="2.05"/>
<circle cx="645.82" cy="287.13" r="2.05"/>
<circle cx="587.26" cy="116.36" r="2.05"/>
<circle cx="645.54" cy="248.01" r="2.05"/>
<circle cx="587.49" cy="250.41" r="2.05"/>
<circle cx="645.88" cy="87" r="2.05"/>
<circle cx="588" cy="91.43" r="2.05"/>
<circle cx="647.3" cy="247.82" r="2.05"/>
<circle cx="586.21" cy="196.43" r="2.05"/>
<circle cx="646.88" cy="231.94" r="2.05"/>
<circle cx="586.9" cy="211.44" r="2.05"/>
<circle cx="648.49" cy="164.98" r="2.05"/>
<circle cx="588.08" cy="155.25" r="2.05"/>
<circle cx="648.77" cy="200.96" r="2.05"/>
<circle cx="585.18" cy="136.42" r="2.05"/>
<circle cx="648.32" cy="191.73" r="2.05"/>
<circle cx="587.7" cy="48" r="2.05"/>
<circle cx="647.01" cy="229.83" r="2.05"/>
<circle cx="586.19" cy="123.47" r="2.05"/>
<circle cx="645" cy="242.62" r="2.05"/>
<circle cx="586.54" cy="188.72" r="2.05"/>
<circle cx="646.59" cy="243.46" r="2.05"/>
<circle cx="585.51" cy="168.76" r="2.05"/>
<circle cx="646.37" cy="265.87" r="2.05"/>
<circle cx="585.23" cy="204.03" r="2.05"/>
<circle cx="646.97" cy="157.45" r="2.05"/>
<circle cx="586.12" cy="137.38" r="2.05"/>
<circle cx="647.43" cy="237.63" r="2.05"/>
<circle cx="587.62" cy="132.07" r="2.05"/>
<circle cx="644.92" cy="271.11" r="2.05"/>
<circle cx="585.74" cy="171.15" r="2.05"/>
<circle cx="646.59" cy="159.82" r="2.05"/>
<circle cx="586.62" cy="112.3" r="2.05"/>
<circle cx="645.23" cy="279.64" r="2.05"/>
<circle cx="587.66" cy="247.62" r="2.05"/>
<circle cx="647.42" cy="233.05" r="2.05"/>
<circle cx="587.13" cy="178.02" r="2.05"/>
<circle cx="646.36" cy="175.96" r="2.05"/>
<circle cx="586.21" cy="202.41" r="2.05"/>
<circle cx="648.16" cy="262.26" r="2.05"/>
<circle cx="588.08" cy="189.17" r="2.05"/>
<circle cx="647.85" cy="276.18" r="2.05"/>
<circle cx="588.09" cy="241.77" r="2.05"/>
<circle cx="645.27" cy="214.03" r="2.05"/>
<circle cx="585.79" cy="122.37" r="2.05"/>
<circle cx="644.96" cy="294.4" r="2.05"/>
<circle cx="588.69" cy="206.25" r="2.05"/>
<circle cx="647.86" cy="163.02" r="2.05"/>
<circle cx="588.12" cy="165.33" r="2.05"/>
<circle cx="647.6" cy="261.77" r="2.05"/>
<circle cx="586.22" cy="108.16" r="2.05"/>
<circle cx="648.39" cy="375.93" r="2.05"/>
<circle cx="587.51" cy="95.55" r="2.05"/>
<circle cx="645.38" cy="323.43" r="2.05"/>
<circle cx="586.03" cy="108.7" r="2.05"/>
<circle cx="647.72" cy="270.91" r="2.05"/>
<circle cx="585.55" cy="273.25" r="2.05"/>
<circle cx="647.36" cy="170.5" r="2.05"/>
<circle cx="587.48" cy="170.73" r="2.05"/>
<circle cx="647.18" cy="240.22" r="2.05"/>
<circle cx="586.05" cy="172.32" r="2.05"/>
<circle cx="645.72" cy="296.51" r="2.05"/>
<circle cx="588.31" cy="193.72" r="2.05"/>
<circle cx="645.74" cy="242.21" r="2.05"/>
<circle cx="586.46" cy="199.26" r="2.05"/>
<circle cx="646.94" cy="182.27" r="2.05"/>
<circle cx="588.91" cy="187.94" r="2.05"/>
<circle cx="646.61" cy="196.4" r="2.05"/>
<circle cx="586.62" cy="141.21" r="2.05"/>
<circle cx="648.48" cy="303.69" r="2.05"/>
<circle cx="586.23" cy="177.95" r="2.05"/>
<circle cx="645.76" cy="268.06" r="2.05"/>
<circle cx="586.85" cy="223.21" r="2.05"/>
<circle cx="645.3" cy="244.89" r="2.05"/>
<circle cx="588.74" cy="237.22" r="2.05"/>
<circle cx="646" cy="149.97" r="2.05"/>
<circle cx="585.78" cy="155.23" r="2.05"/>
<circle cx="646.29" cy="295.51" r="2.05"/>
<circle cx="586.75" cy="264.01" r="2.05"/>
<circle cx="647.75" cy="200.1" r="2.05"/>
<circle cx="586.76" cy="136.19" r="2.05"/>
<circle cx="647.76" cy="309.79" r="2.05"/>
<circle cx="587.16" cy="183.52" r="2.05"/>
<circle cx="646.71" cy="281.13" r="2.05"/>
<circle cx="587.71" cy="184.1" r="2.05"/>
<circle cx="646.31" cy="233.09" r="2.05"/>
<circle cx="587.71" cy="149.76" r="2.05"/>
<circle cx="646.88" cy="210.39" r="2.05"/>
<circle cx="586.84" cy="173.28" r="2.05"/>
<circle cx="647.29" cy="262.89" r="2.05"/>
<circle cx="586.98" cy="135.56" r="2.05"/>
<circle cx="646.73" cy="213.39" r="2.05"/>
<circle cx="588.65" cy="222.43" r="2.05"/>
<circle cx="648.3" cy="205.33" r="2.05"/>
<circle cx="587.86" cy="271.73" r="2.05"/>
<circle cx="646.26" cy="156.47" r="2.05"/>
<circle cx="587.65" cy="63.49" r="2.05"/>
<circle cx="645.68" cy="176.7" r="2.05"/>
<circle cx="585.51" cy="154.17" r="2.05"/>
<circle cx="647.46" cy="138.53" r="2.05"/>
<circle cx="585.5" cy="283.2" r="2.05"/>
<circle cx="645.58" cy="299.79" r="2.05"/>
<circle cx="588.41" cy="87.75" r="2.05"/>
<circle cx="646.69" cy="297.09" r="2.05"/>
<circle cx="587.22" cy="230.32" r="2.05"/>
<circle cx="644.99" cy="206.83" r="2.05"/>
<circle cx="586.9" cy="53.53" r="2.05"/>
<circle cx="645.55" cy="285.43" r="2.05"/>
<circle cx="587.61" cy="79.03" r="2.05"/>
<circle cx="646.42" cy="384" r="2.05"/>
<circle cx="585.66" cy="124.93" r="2.05"/>
<circle cx="647.21" cy="310.9" r="2.05"/>
<circle cx="586.61" cy="163.9" r="2.05"/>
<circle cx="648.36" cy="246.88" r="2.05"/>
<circle cx="585.98" cy="200.17" r="2.05"/>
<circle cx="645.6" cy="247.98" r="2.05"/>
<circle cx="588.51" cy="121.33" r="2.05"/>
<circle cx="645.28" cy="328.91" r="2.05"/>
<circle cx="588.66" cy="173.32" r="2.05"/>
<circle cx="644.87" cy="161.64" r="2.05"/>
<circle cx="588.57" cy="114.7" r="2.05"/>
<circle cx="647.24" cy="357.38" r="2.05"/>
<circle cx="586.26" cy="170.23" r="2.05"/>
<circle cx="645.95" cy="259.83" r="2.05"/>
<circle cx="588.65" cy="236.27" r="2.05"/>
<circle cx="648.49" cy="222.95" r="2.05"/>
<circle cx="585.43" cy="193.8" r="2.05"/>
<circle cx="645.31" cy="243.28" r="2.05"/>
<circle cx="585.38" cy="158.17" r="2.05"/>
<circle cx="647.46" cy="148.06" r="2.05"/>
<circle cx="585.59" cy="180.07" r="2.05"/>
<circle cx="646.17" cy="187.85" r="2.05"/>
<circle cx="586.97" cy="155.08" r="2.05"/>
<circle cx="647.93" cy="255.64" r="2.05"/>
<circle cx="586.64" cy="200.68" r="2.05"/>
<circle cx="645.23" cy="136.77" r="2.05"/>
<circle cx="585.79" cy="90.46" r="2.05"/>
<circle cx="647.58" cy="363.03" r="2.05"/>
</g>
<path d="M578.1,48.2 L577.8,50.17 L577.5,52.15 L577.22,54.12 L576.93,56.1 L576.66,58.07 L576.39,60.05 L576.15,62.02 L575.92,64 L575.7,65.97 L575.5,67.95 L575.29,69.92 L575.08,71.9 L574.85,73.87 L574.61,75.85 L574.34,77.82 L574.03,79.8 L573.69,81.77 L573.28,83.75 L572.83,85.72 L572.34,87.7 L571.82,89.67 L571.27,91.65 L570.69,93.62 L570.11,95.59 L569.52,97.57 L568.93,99.54 L568.34,101.52 L567.7,103.49 L567.02,105.47 L566.33,107.44 L565.61,109.42 L564.9,111.39 L564.19,113.37 L563.5,115.34 L562.84,117.32 L562.21,119.29 L561.61,121.27 L560.97,123.24 L560.32,125.22 L559.73,127.19 L559.23,129.17 L558.89,131.14 L558.71,133.12 L558.58,135.09 L558.46,137.07 L558.36,139.04 L558.27,141.02 L558.19,142.99 L558.13,144.96 L558.07,146.94 L558.02,148.91 L557.98,150.89 L557.94,152.86 L557.9,154.84 L557.86,156.81 L557.83,158.79 L557.81,160.76 L557.8,162.74 L557.81,164.71 L557.86,166.69 L557.94,168.66 L558.05,170.64 L558.18,172.61 L558.33,174.59 L558.49,176.56 L558.67,178.54 L558.85,180.51 L559.09,182.49 L559.41,184.46 L559.78,186.44 L560.2,188.41 L560.65,190.38 L561.12,192.36 L561.6,194.33 L562.07,196.31 L562.62,198.28 L563.25,200.26 L563.91,202.23 L564.56,204.21 L565.16,206.18 L565.66,208.16 L566.02,210.13 L566.27,212.11 L566.48,214.08 L566.66,216.06 L566.81,218.03 L566.96,220.01 L567.09,221.98 L567.24,223.96 L567.39,225.93 L567.57,227.91 L567.79,229.88 L568.04,231.86 L568.32,233.83 L568.64,235.81 L568.98,237.78 L569.34,239.75 L569.73,241.73 L570.12,243.7 L570.53,245.68 L570.94,247.65 L571.36,249.63 L571.77,251.6 L572.18,253.58 L572.57,255.55 L572.95,257.53 L573.31,259.5 L573.65,261.48 L573.95,263.45 L574.23,265.43 L574.5,267.4 L574.77,269.38 L575.05,271.35 L575.35,273.33 L575.69,275.3 L576.07,277.28 L576.52,279.25 L577.09,281.23 L577.9,283.2" fill="none" stroke="#1a1a1a" stroke-width="0.9"/>
<line x1="578.3" y1="48.2" x2="578.3" y2="283.2" stroke="#2a2a2a" stroke-width="0.8"/>
<line x1="559" y1="132.5" x2="576.6" y2="132.5" stroke="#333" stroke-width="1"/>
<line x1="557.8" y1="163.4" x2="576" y2="163.4" stroke="#333" stroke-width="1"/>
<line x1="562.3" y1="195.8" x2="593.5" y2="195.8" stroke="#333" stroke-width="1"/>
<path d="M656.7,79.7 L656.75,82.35 L656.81,84.99 L656.88,87.64 L656.96,90.28 L657.06,92.93 L657.16,95.57 L657.28,98.22 L657.4,100.86 L657.54,103.51 L657.68,106.15 L657.82,108.8 L657.98,111.44 L658.14,114.09 L658.31,116.74 L658.48,119.38 L658.65,122.03 L658.83,124.67 L659.01,127.32 L659.2,129.96 L659.39,132.61 L659.62,135.25 L659.86,137.9 L660.12,140.54 L660.4,143.19 L660.7,145.83 L661,148.48 L661.31,151.13 L661.63,153.77 L661.96,156.42 L662.28,159.06 L662.6,161.71 L662.92,164.35 L663.24,167 L663.59,169.64 L663.96,172.29 L664.33,174.93 L664.72,177.58 L665.11,180.22 L665.5,182.87 L665.88,185.52 L666.25,188.16 L666.6,190.81 L666.92,193.45 L667.21,196.1 L667.47,198.74 L667.69,201.39 L667.9,204.03 L668.11,206.68 L668.33,209.32 L668.53,211.97 L668.74,214.61 L668.93,217.26 L669.12,219.91 L669.29,222.55 L669.45,225.2 L669.59,227.84 L669.72,230.49 L669.82,233.13 L669.9,235.78 L669.96,238.42 L669.99,241.07 L670,243.71 L669.97,246.36 L669.92,249 L669.84,251.65 L669.75,254.29 L669.63,256.94 L669.49,259.59 L669.33,262.23 L669.17,264.88 L668.98,267.52 L668.79,270.17 L668.59,272.81 L668.39,275.46 L668.18,278.1 L667.96,280.75 L667.75,283.39 L667.54,286.04 L667.33,288.68 L667.13,291.33 L666.91,293.98 L666.67,296.62 L666.42,299.27 L666.15,301.91 L665.87,304.56 L665.59,307.2 L665.3,309.85 L665.01,312.49 L664.72,315.14 L664.43,317.78 L664.16,320.43 L663.88,323.07 L663.6,325.72 L663.32,328.37 L663.04,331.01 L662.75,333.66 L662.47,336.3 L662.19,338.95 L661.9,341.59 L661.62,344.24 L661.33,346.88 L661.05,349.53 L660.76,352.17 L660.46,354.82 L660.15,357.46 L659.84,360.11 L659.53,362.76 L659.22,365.4 L658.92,368.05 L658.63,370.69 L658.36,373.34 L658.12,375.98 L657.9,378.63 L657.71,381.27 L657.54,383.92 L657.38,386.56 L657.24,389.21 L657.11,391.85 L657,394.5" fill="none" stroke="#1a1a1a" stroke-width="0.9"/>
<line x1="655.8" y1="79.7" x2="655.8" y2="394.5" stroke="#2a2a2a" stroke-width="0.8"/>
<line x1="638.4" y1="200.3" x2="667.6" y2="200.3" stroke="#333" stroke-width="1"/>
<line x1="650.6" y1="242.7" x2="670" y2="242.7" stroke="#333" stroke-width="1"/>
<line x1="639" y1="290.4" x2="667.2" y2="290.4" stroke="#333" stroke-width="1"/>
<g stroke="#222" fill="none">
<line x1="580.9" y1="48.2" x2="580.9" y2="132.5" stroke-width="1.4"/>
<line x1="580.9" y1="195.8" x2="580.9" y2="283.2" stroke-width="1.4"/>
<rect x="578.9" y="132.5" width="4" height="63.3" stroke-width="1.4" fill="none"/>
<line x1="578.9" y1="163.4" x2="582.9" y2="163.4" stroke-width="2.4"/>
</g>
<g stroke="#222" fill="none">
<line x1="652.85" y1="79.7" x2="652.85" y2="200.3" stroke-width="1.4"/>
<line x1="652.85" y1="290.4" x2="652.85" y2="395" stroke-width="1.4"/>
<rect x="650.6" y="200.3" width="4.5" height="90.1" stroke-width="1.4" fill="none"/>
<line x1="650.6" y1="242.7" x2="655.1" y2="242.7" stroke-width="2.4"/>
</g>
<path d="M637.5,81 V79.7 H656.7" stroke="#1a1a1a" stroke-width="1.3" fill="none"/>
<g stroke="#000" stroke-width="1.8" fill="none">
<path d="M552,30 V412.6 H683.3"/>
<line x1="547.6" y1="98.1" x2="552" y2="98.1"/>
<line x1="547.6" y1="188" x2="552" y2="188"/>
<line x1="547.6" y1="277.9" x2="552" y2="277.9"/>
<line x1="547.6" y1="367.8" x2="552" y2="367.8"/>
<line x1="587.5" y1="412.6" x2="587.5" y2="417"/>
<line x1="647.2" y1="412.6" x2="647.2" y2="417"/>
</g>
<g font-family='"Liberation Sans", sans-serif' font-size="12.6" fill="#262626" text-anchor="end">
<text x="544.4" y="102.7">1.0</text>
<text x="544.4" y="192.6">0.5</text>
<text x="544.4" y="282.5">0.0</text>
<text x="544.4" y="372.4">-0.5</text>
</g>
<g font-family='"Liberation Sans", sans-serif' font-size="12.6" fill="#262626" text-anchor="middle">
<text x="587.5" y="429.2">inlying</text>
<text x="647.2" y="429.2">outlying</text>
</g>
<text x="618.25" y="447.6" font-family='"Liberation Sans", sans-serif' font-size="16.4" text-anchor="middle">Rank</text>
<text transform="translate(514.2,222.2) rotate(-90)" font-family='"Liberation Sans", sans-serif' font-size="16.3" text-anchor="middle">Beta Weight</text>
<text x="496.5" y="9.9" font-family='"Liberation Sans", sans-serif' font-size="10.5" font-weight="bold">C</text>
<text x="550.8" y="19.9" font-family='"Liberation Sans", sans-serif' font-size="19.5" >High Variance</text>
</g>
</svg>
</body></html>
